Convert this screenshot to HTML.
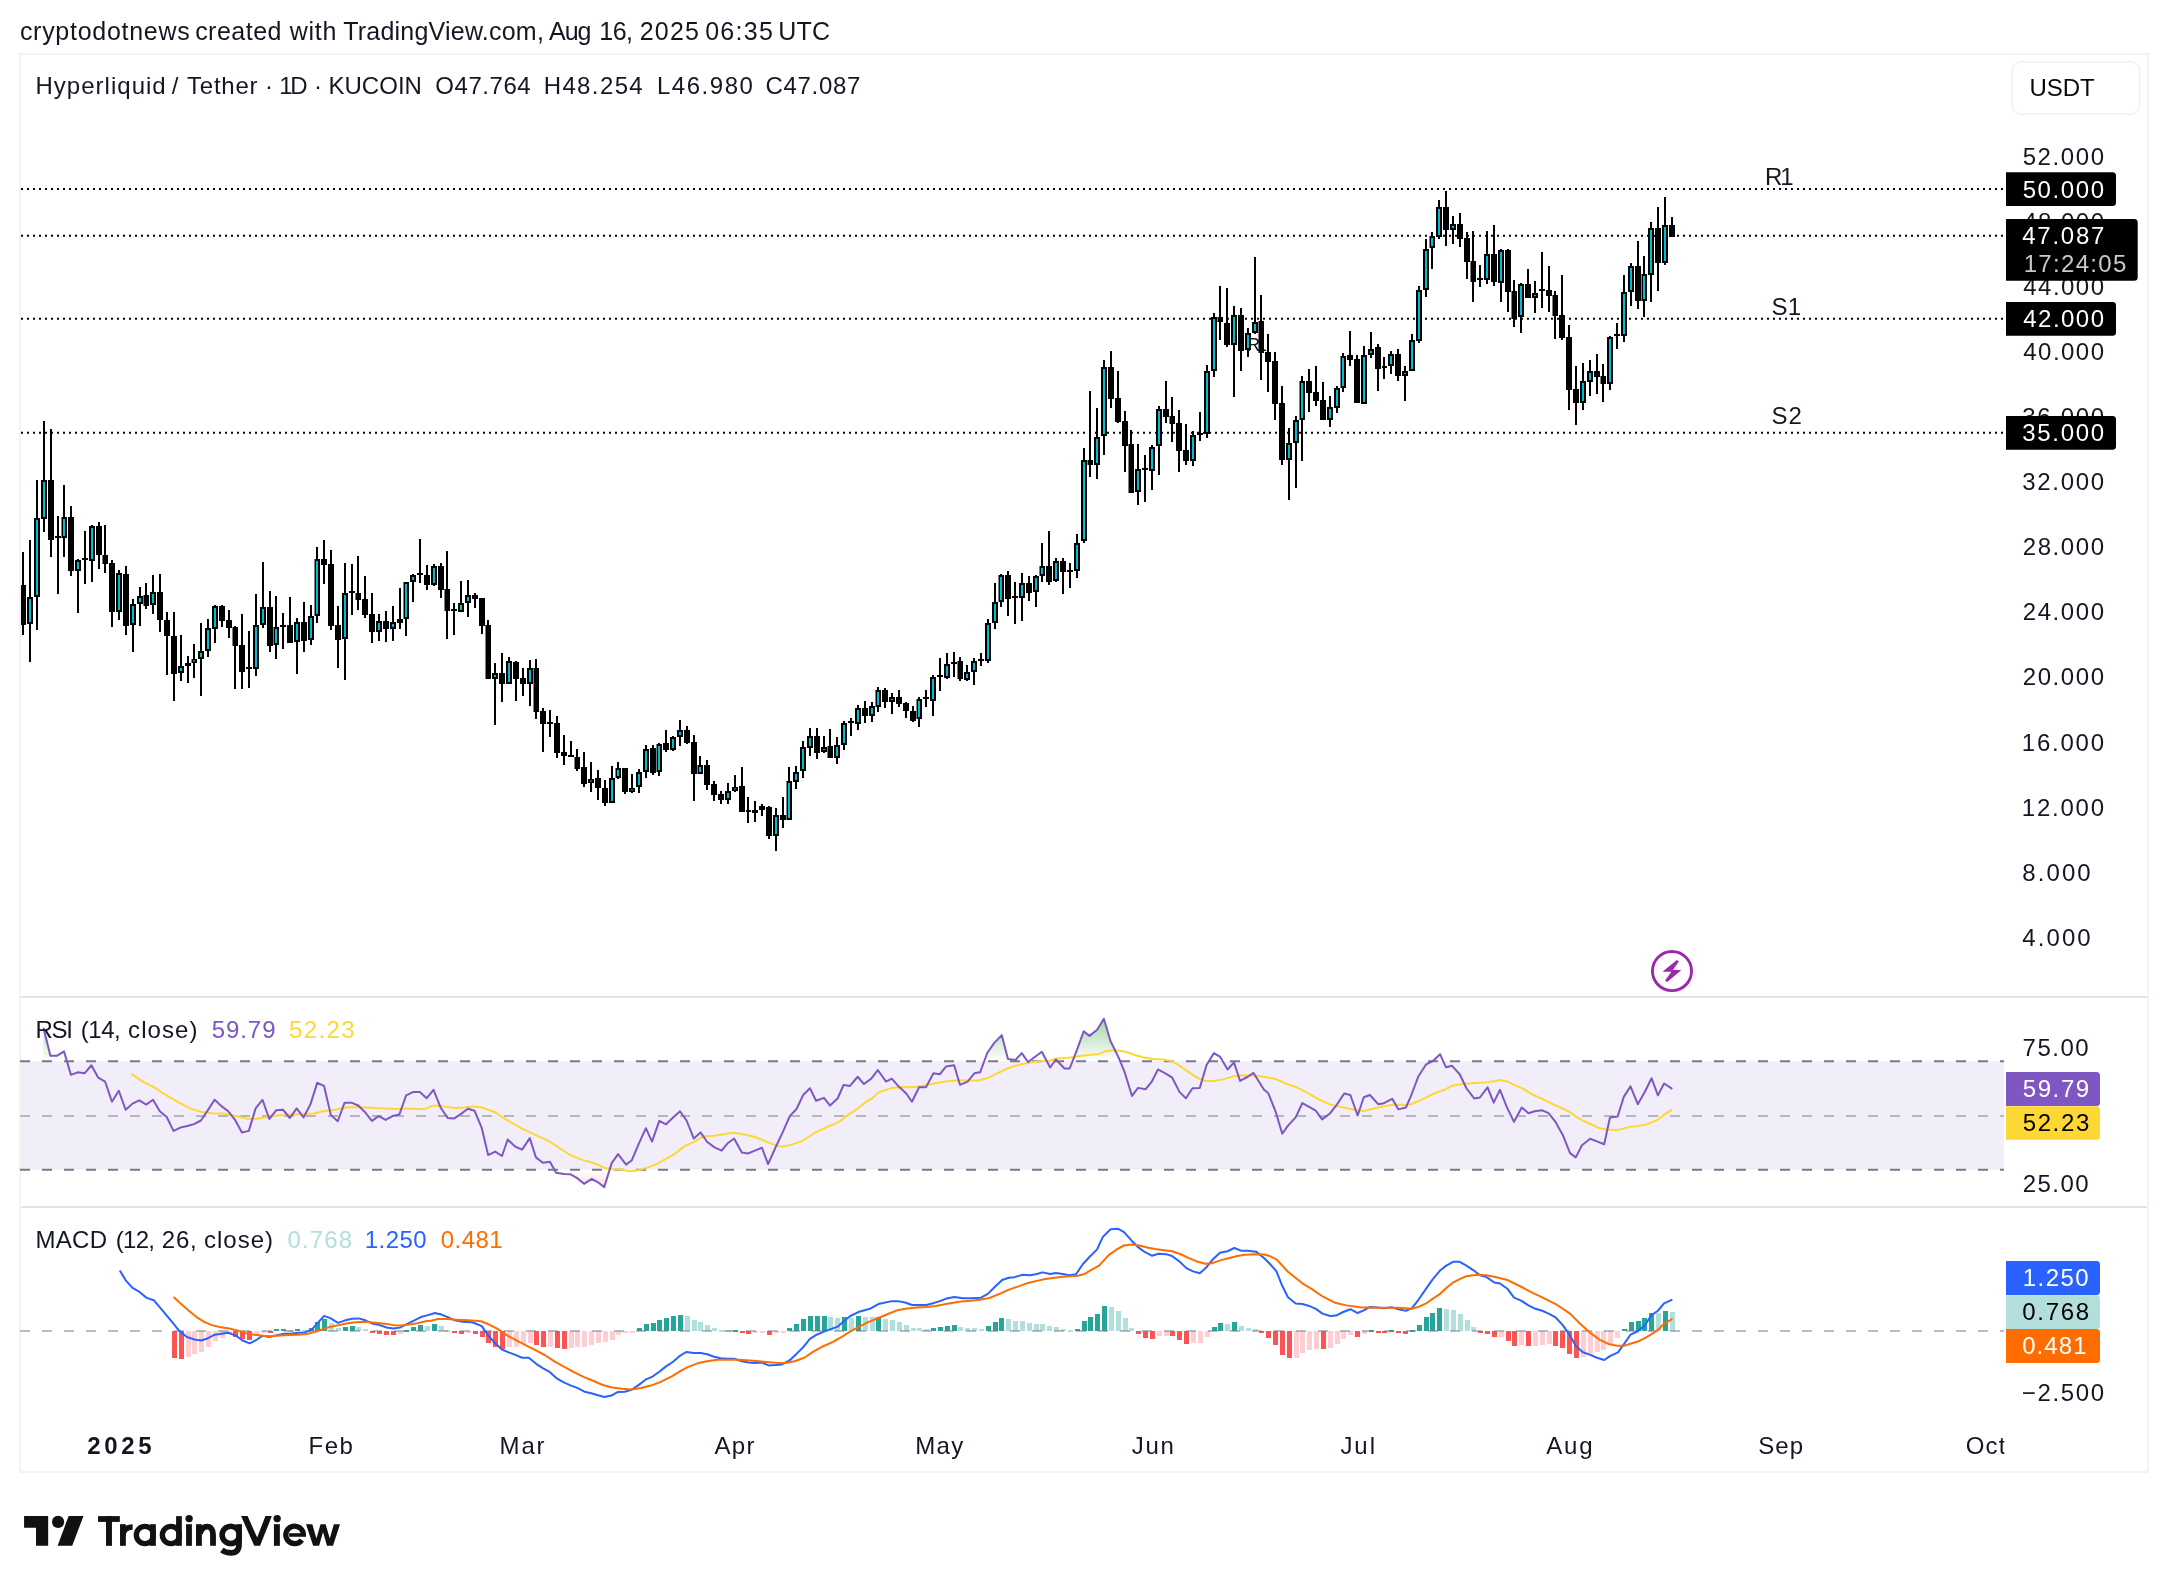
<!DOCTYPE html>
<html><head><meta charset="utf-8"><title>Chart</title>
<style>html,body{margin:0;padding:0;background:#fff}svg{display:block;will-change:transform}</style></head>
<body>
<svg width="2168" height="1592" viewBox="0 0 2168 1592" font-family='"Liberation Sans", sans-serif'>
<defs>
<linearGradient id="gob" gradientUnits="userSpaceOnUse" x1="0" y1="979.75" x2="0" y2="1061.5"><stop offset="0" stop-color="#4caf50" stop-opacity="1"/><stop offset="1" stop-color="#4caf50" stop-opacity="0"/></linearGradient>
<linearGradient id="gos" gradientUnits="userSpaceOnUse" x1="0" y1="1170" x2="0" y2="1252" ><stop offset="0" stop-color="#ff5252" stop-opacity="0"/><stop offset="1" stop-color="#ff5252" stop-opacity="1"/></linearGradient>
<clipPath id="cob"><rect x="21" y="998" width="1983" height="63.3"/></clipPath>
<clipPath id="cos"><rect x="21" y="1170" width="1983" height="36"/></clipPath>
<clipPath id="cmain"><rect x="21" y="55" width="1983" height="941"/></clipPath>
<clipPath id="coct"><rect x="1900" y="1420" width="104.3" height="50"/></clipPath>
</defs>
<rect width="2168" height="1592" fill="#fff"/>
<text id="t0" x="19.9" y="40" font-size="25" fill="#131722" textLength="169.8" lengthAdjust="spacing">cryptodotnews</text>
<text id="t1" x="195.14" y="40" font-size="25" fill="#131722" textLength="86.29" lengthAdjust="spacing">created</text>
<text id="t2" x="289.77" y="40" font-size="25" fill="#131722" textLength="46.62" lengthAdjust="spacing">with</text>
<text id="t3" x="343.18" y="40" font-size="25" fill="#131722" textLength="200.69" lengthAdjust="spacing">TradingView.com,</text>
<text id="t4" x="549.02" y="40" font-size="25" fill="#131722" textLength="42.36" lengthAdjust="spacing">Aug</text>
<text id="t5" x="599.29" y="40" font-size="25" fill="#131722" textLength="33.78" lengthAdjust="spacing">16,</text>
<text id="t6" x="639.77" y="40" font-size="25" fill="#131722" textLength="59.21" lengthAdjust="spacing">2025</text>
<text id="t7" x="705.14" y="40" font-size="25" fill="#131722" textLength="67.84" lengthAdjust="spacing">06:35</text>
<text id="t8" x="778.3" y="40" font-size="25" fill="#131722" textLength="51.7" lengthAdjust="spacing">UTC</text>
<rect x="20" y="54" width="2128" height="1418" fill="none" stroke="#f3f3f3" stroke-width="2"/>
<rect x="21" y="996" width="2126" height="2" fill="#e0e3eb"/>
<rect x="21" y="1206" width="2126" height="2" fill="#e0e3eb"/>
<line x1="21" y1="189" x2="2004" y2="189" stroke="#000" stroke-width="2" stroke-dasharray="2 4"/>
<line x1="21" y1="235.8" x2="2004" y2="235.8" stroke="#000" stroke-width="2" stroke-dasharray="2 4"/>
<line x1="21" y1="318.8" x2="2004" y2="318.8" stroke="#000" stroke-width="2" stroke-dasharray="2 4"/>
<line x1="21" y1="432.8" x2="2004" y2="432.8" stroke="#000" stroke-width="2" stroke-dasharray="2 4"/>
<text id="t9" x="1764.91" y="184.9" font-size="24" fill="#131722" textLength="28.61" lengthAdjust="spacing">R1</text>
<text id="t10" x="1771.53" y="315.4" font-size="24" fill="#131722" textLength="29.62" lengthAdjust="spacing">S1</text>
<text id="t11" x="1771.53" y="423.6" font-size="24" fill="#131722" textLength="30.39" lengthAdjust="spacing">S2</text>
<text id="t12" x="1246.69" y="350.7" font-size="18.5" fill="#131722" textLength="20.46" lengthAdjust="spacing">R1</text>
<g clip-path="url(#cmain)" shape-rendering="crispEdges">
<rect x="22" y="552" width="2" height="83" fill="#000"/>
<rect x="20" y="585" width="6" height="40" fill="#000"/>
<rect x="29" y="540" width="2" height="122" fill="#000"/>
<rect x="27" y="597" width="6" height="27" fill="#000"/>
<rect x="29" y="599" width="2" height="23" fill="#00bcd4"/>
<rect x="36" y="480" width="2" height="150" fill="#000"/>
<rect x="34" y="518" width="6" height="79" fill="#000"/>
<rect x="36" y="520" width="2" height="75" fill="#00bcd4"/>
<rect x="43" y="421" width="2" height="111" fill="#000"/>
<rect x="41" y="480" width="6" height="39" fill="#000"/>
<rect x="43" y="482" width="2" height="35" fill="#00bcd4"/>
<rect x="50" y="429" width="2" height="128" fill="#000"/>
<rect x="48" y="480" width="6" height="60" fill="#000"/>
<rect x="57" y="516" width="2" height="78" fill="#000"/>
<rect x="55" y="536" width="6" height="2" fill="#000"/>
<rect x="63" y="485" width="2" height="72" fill="#000"/>
<rect x="61.5" y="517" width="5.5" height="21" fill="#000" shape-rendering="auto"/>
<rect x="63" y="519" width="2" height="17" fill="#00bcd4"/>
<rect x="70" y="506" width="2" height="70" fill="#000"/>
<rect x="68" y="517" width="6" height="54" fill="#000"/>
<rect x="77" y="559" width="2" height="54" fill="#000"/>
<rect x="75" y="560" width="6" height="11" fill="#000"/>
<rect x="77" y="562" width="2" height="7" fill="#00bcd4"/>
<rect x="84" y="531" width="2" height="53" fill="#000"/>
<rect x="82" y="558" width="6" height="2" fill="#000"/>
<rect x="91" y="525" width="2" height="57" fill="#000"/>
<rect x="89" y="526" width="6" height="35" fill="#000"/>
<rect x="91" y="528" width="2" height="31" fill="#00bcd4"/>
<rect x="98" y="522" width="2" height="47" fill="#000"/>
<rect x="96" y="526" width="6" height="29" fill="#000"/>
<rect x="104" y="525" width="2" height="48" fill="#000"/>
<rect x="102.5" y="555" width="5.5" height="9" fill="#000" shape-rendering="auto"/>
<rect x="111" y="560" width="2" height="67" fill="#000"/>
<rect x="109" y="563" width="6" height="49" fill="#000"/>
<rect x="118" y="570" width="2" height="50" fill="#000"/>
<rect x="116" y="573" width="6" height="39" fill="#000"/>
<rect x="118" y="575" width="2" height="35" fill="#00bcd4"/>
<rect x="125" y="566" width="2" height="69" fill="#000"/>
<rect x="123" y="574" width="6" height="52" fill="#000"/>
<rect x="132" y="599" width="2" height="53" fill="#000"/>
<rect x="130" y="604" width="6" height="21" fill="#000"/>
<rect x="132" y="606" width="2" height="17" fill="#00bcd4"/>
<rect x="139" y="587" width="2" height="39" fill="#000"/>
<rect x="137" y="596" width="6" height="8" fill="#000"/>
<rect x="139" y="598" width="2" height="4" fill="#00bcd4"/>
<rect x="145" y="583" width="2" height="26" fill="#000"/>
<rect x="143.5" y="595" width="5.5" height="11" fill="#000" shape-rendering="auto"/>
<rect x="152" y="575" width="2" height="39" fill="#000"/>
<rect x="150" y="592" width="6" height="13" fill="#000"/>
<rect x="152" y="594" width="2" height="9" fill="#00bcd4"/>
<rect x="159" y="574" width="2" height="58" fill="#000"/>
<rect x="157" y="592" width="6" height="28" fill="#000"/>
<rect x="166" y="612" width="2" height="63" fill="#000"/>
<rect x="164" y="620" width="6" height="16" fill="#000"/>
<rect x="173" y="612" width="2" height="89" fill="#000"/>
<rect x="171" y="636" width="6" height="38" fill="#000"/>
<rect x="180" y="635" width="2" height="46" fill="#000"/>
<rect x="178" y="666" width="6" height="7" fill="#000"/>
<rect x="180" y="668" width="2" height="3" fill="#00bcd4"/>
<rect x="187" y="656" width="2" height="27" fill="#000"/>
<rect x="185" y="663" width="6" height="3" fill="#000"/>
<rect x="193" y="644" width="2" height="34" fill="#000"/>
<rect x="191.5" y="659" width="5.5" height="4" fill="#000" shape-rendering="auto"/>
<rect x="193" y="660.5" width="2" height="1" fill="#00bcd4" shape-rendering="auto"/>
<rect x="200" y="623" width="2" height="73" fill="#000"/>
<rect x="198" y="651" width="6" height="8" fill="#000"/>
<rect x="200" y="653" width="2" height="4" fill="#00bcd4"/>
<rect x="207" y="619" width="2" height="38" fill="#000"/>
<rect x="205" y="628" width="6" height="23" fill="#000"/>
<rect x="207" y="630" width="2" height="19" fill="#00bcd4"/>
<rect x="214" y="605" width="2" height="38" fill="#000"/>
<rect x="212" y="606" width="6" height="23" fill="#000"/>
<rect x="214" y="608" width="2" height="19" fill="#00bcd4"/>
<rect x="221" y="605" width="2" height="22" fill="#000"/>
<rect x="219" y="606" width="6" height="15" fill="#000"/>
<rect x="228" y="610" width="2" height="28" fill="#000"/>
<rect x="226" y="620" width="6" height="8" fill="#000"/>
<rect x="234" y="626" width="2" height="63" fill="#000"/>
<rect x="232.5" y="627" width="5.5" height="19" fill="#000" shape-rendering="auto"/>
<rect x="241" y="614" width="2" height="75" fill="#000"/>
<rect x="239" y="645" width="6" height="27" fill="#000"/>
<rect x="248" y="631" width="2" height="57" fill="#000"/>
<rect x="246" y="667" width="6" height="2" fill="#000"/>
<rect x="255" y="594" width="2" height="82" fill="#000"/>
<rect x="253" y="625" width="6" height="44" fill="#000"/>
<rect x="255" y="627" width="2" height="40" fill="#00bcd4"/>
<rect x="262" y="562" width="2" height="66" fill="#000"/>
<rect x="260" y="607" width="6" height="18" fill="#000"/>
<rect x="262" y="609" width="2" height="14" fill="#00bcd4"/>
<rect x="269" y="591" width="2" height="61" fill="#000"/>
<rect x="267" y="607" width="6" height="39" fill="#000"/>
<rect x="275" y="596" width="2" height="63" fill="#000"/>
<rect x="273.5" y="627" width="5.5" height="18" fill="#000" shape-rendering="auto"/>
<rect x="275" y="629" width="2" height="14" fill="#00bcd4"/>
<rect x="282" y="613" width="2" height="36" fill="#000"/>
<rect x="280" y="625" width="6" height="2" fill="#000"/>
<rect x="289" y="597" width="2" height="46" fill="#000"/>
<rect x="287" y="625" width="6" height="18" fill="#000"/>
<rect x="296" y="618" width="2" height="56" fill="#000"/>
<rect x="294" y="622" width="6" height="20" fill="#000"/>
<rect x="296" y="624" width="2" height="16" fill="#00bcd4"/>
<rect x="303" y="602" width="2" height="50" fill="#000"/>
<rect x="301" y="622" width="6" height="19" fill="#000"/>
<rect x="310" y="605" width="2" height="40" fill="#000"/>
<rect x="308" y="616" width="6" height="24" fill="#000"/>
<rect x="310" y="618" width="2" height="20" fill="#00bcd4"/>
<rect x="316" y="547" width="2" height="76" fill="#000"/>
<rect x="314.5" y="559" width="5.5" height="57" fill="#000" shape-rendering="auto"/>
<rect x="316" y="561" width="2" height="53" fill="#00bcd4"/>
<rect x="323" y="540" width="2" height="44" fill="#000"/>
<rect x="321" y="559" width="6" height="6" fill="#000"/>
<rect x="330" y="550" width="2" height="80" fill="#000"/>
<rect x="328" y="564" width="6" height="62" fill="#000"/>
<rect x="337" y="606" width="2" height="62" fill="#000"/>
<rect x="335" y="625" width="6" height="15" fill="#000"/>
<rect x="344" y="563" width="2" height="117" fill="#000"/>
<rect x="342" y="593" width="6" height="46" fill="#000"/>
<rect x="344" y="595" width="2" height="42" fill="#00bcd4"/>
<rect x="351" y="564" width="2" height="51" fill="#000"/>
<rect x="349" y="591" width="6" height="2" fill="#000"/>
<rect x="357" y="556" width="2" height="54" fill="#000"/>
<rect x="355.5" y="593" width="5.5" height="7" fill="#000" shape-rendering="auto"/>
<rect x="364" y="576" width="2" height="42" fill="#000"/>
<rect x="362" y="599" width="6" height="16" fill="#000"/>
<rect x="371" y="593" width="2" height="50" fill="#000"/>
<rect x="369" y="614" width="6" height="18" fill="#000"/>
<rect x="378" y="614" width="2" height="27" fill="#000"/>
<rect x="376" y="621" width="6" height="11" fill="#000"/>
<rect x="378" y="623" width="2" height="7" fill="#00bcd4"/>
<rect x="385" y="611" width="2" height="31" fill="#000"/>
<rect x="383" y="621" width="6" height="8" fill="#000"/>
<rect x="392" y="606" width="2" height="35" fill="#000"/>
<rect x="390" y="622" width="6" height="7" fill="#000"/>
<rect x="392" y="624" width="2" height="3" fill="#00bcd4"/>
<rect x="399" y="588" width="2" height="41" fill="#000"/>
<rect x="397" y="619" width="6" height="4" fill="#000"/>
<rect x="405" y="582" width="2" height="54" fill="#000"/>
<rect x="403.5" y="582" width="5.5" height="37" fill="#000" shape-rendering="auto"/>
<rect x="405" y="584" width="2" height="33" fill="#00bcd4"/>
<rect x="412" y="574" width="2" height="28" fill="#000"/>
<rect x="410" y="575" width="6" height="7" fill="#000"/>
<rect x="412" y="577" width="2" height="3" fill="#00bcd4"/>
<rect x="419" y="539" width="2" height="44" fill="#000"/>
<rect x="417" y="573" width="6" height="2" fill="#000"/>
<rect x="426" y="565" width="2" height="25" fill="#000"/>
<rect x="424" y="575" width="6" height="10" fill="#000"/>
<rect x="433" y="564" width="2" height="22" fill="#000"/>
<rect x="431" y="566" width="6" height="19" fill="#000"/>
<rect x="433" y="568" width="2" height="15" fill="#00bcd4"/>
<rect x="440" y="563" width="2" height="35" fill="#000"/>
<rect x="438" y="566" width="6" height="24" fill="#000"/>
<rect x="446" y="551" width="2" height="88" fill="#000"/>
<rect x="444.5" y="589" width="5.5" height="22" fill="#000" shape-rendering="auto"/>
<rect x="453" y="603" width="2" height="32" fill="#000"/>
<rect x="451" y="609" width="6" height="2" fill="#000"/>
<rect x="460" y="581" width="2" height="31" fill="#000"/>
<rect x="458" y="603" width="6" height="9" fill="#000"/>
<rect x="460" y="605" width="2" height="5" fill="#00bcd4"/>
<rect x="467" y="580" width="2" height="37" fill="#000"/>
<rect x="465" y="595" width="6" height="8" fill="#000"/>
<rect x="467" y="597" width="2" height="4" fill="#00bcd4"/>
<rect x="474" y="593" width="2" height="15" fill="#000"/>
<rect x="472" y="595" width="6" height="4" fill="#000"/>
<rect x="481" y="598" width="2" height="36" fill="#000"/>
<rect x="479" y="598" width="6" height="28" fill="#000"/>
<rect x="487" y="620" width="2" height="59" fill="#000"/>
<rect x="485.5" y="625" width="5.5" height="54" fill="#000" shape-rendering="auto"/>
<rect x="494" y="663" width="2" height="62" fill="#000"/>
<rect x="492" y="673" width="6" height="6" fill="#000"/>
<rect x="494" y="675" width="2" height="2" fill="#00bcd4"/>
<rect x="501" y="653" width="2" height="49" fill="#000"/>
<rect x="499" y="673" width="6" height="11" fill="#000"/>
<rect x="508" y="657" width="2" height="27" fill="#000"/>
<rect x="506" y="661" width="6" height="23" fill="#000"/>
<rect x="508" y="663" width="2" height="19" fill="#00bcd4"/>
<rect x="515" y="661" width="2" height="40" fill="#000"/>
<rect x="513" y="662" width="6" height="17" fill="#000"/>
<rect x="522" y="668" width="2" height="28" fill="#000"/>
<rect x="520" y="678" width="6" height="6" fill="#000"/>
<rect x="529" y="660" width="2" height="46" fill="#000"/>
<rect x="527" y="668" width="6" height="16" fill="#000"/>
<rect x="529" y="670" width="2" height="12" fill="#00bcd4"/>
<rect x="535" y="659" width="2" height="60" fill="#000"/>
<rect x="533.5" y="668" width="5.5" height="44" fill="#000" shape-rendering="auto"/>
<rect x="542" y="708" width="2" height="44" fill="#000"/>
<rect x="540" y="711" width="6" height="13" fill="#000"/>
<rect x="549" y="710" width="2" height="27" fill="#000"/>
<rect x="547" y="722" width="6" height="2" fill="#000"/>
<rect x="556" y="716" width="2" height="42" fill="#000"/>
<rect x="554" y="723" width="6" height="30" fill="#000"/>
<rect x="563" y="735" width="2" height="30" fill="#000"/>
<rect x="561" y="752" width="6" height="4" fill="#000"/>
<rect x="570" y="741" width="2" height="16" fill="#000"/>
<rect x="568" y="755" width="6" height="2" fill="#000"/>
<rect x="576" y="749" width="2" height="22" fill="#000"/>
<rect x="574.5" y="757" width="5.5" height="12" fill="#000" shape-rendering="auto"/>
<rect x="583" y="752" width="2" height="35" fill="#000"/>
<rect x="581" y="767" width="6" height="17" fill="#000"/>
<rect x="590" y="762" width="2" height="30" fill="#000"/>
<rect x="588" y="779" width="6" height="4" fill="#000"/>
<rect x="590" y="780.5" width="2" height="1" fill="#00bcd4" shape-rendering="auto"/>
<rect x="597" y="770" width="2" height="30" fill="#000"/>
<rect x="595" y="778" width="6" height="10" fill="#000"/>
<rect x="604" y="780" width="2" height="26" fill="#000"/>
<rect x="602" y="788" width="6" height="15" fill="#000"/>
<rect x="611" y="766" width="2" height="37" fill="#000"/>
<rect x="609" y="778" width="6" height="25" fill="#000"/>
<rect x="611" y="780" width="2" height="21" fill="#00bcd4"/>
<rect x="617" y="762" width="2" height="17" fill="#000"/>
<rect x="615.5" y="768" width="5.5" height="10" fill="#000" shape-rendering="auto"/>
<rect x="617" y="770" width="2" height="6" fill="#00bcd4"/>
<rect x="624" y="768" width="2" height="26" fill="#000"/>
<rect x="622" y="768" width="6" height="24" fill="#000"/>
<rect x="631" y="774" width="2" height="19" fill="#000"/>
<rect x="629" y="788" width="6" height="4" fill="#000"/>
<rect x="631" y="789.5" width="2" height="1" fill="#00bcd4" shape-rendering="auto"/>
<rect x="638" y="769" width="2" height="24" fill="#000"/>
<rect x="636" y="772" width="6" height="15" fill="#000"/>
<rect x="638" y="774" width="2" height="11" fill="#00bcd4"/>
<rect x="645" y="745" width="2" height="33" fill="#000"/>
<rect x="643" y="749" width="6" height="23" fill="#000"/>
<rect x="645" y="751" width="2" height="19" fill="#00bcd4"/>
<rect x="652" y="745" width="2" height="30" fill="#000"/>
<rect x="650" y="748" width="6" height="25" fill="#000"/>
<rect x="658" y="743" width="2" height="33" fill="#000"/>
<rect x="656.5" y="744" width="5.5" height="28" fill="#000" shape-rendering="auto"/>
<rect x="658" y="746" width="2" height="24" fill="#00bcd4"/>
<rect x="665" y="730" width="2" height="22" fill="#000"/>
<rect x="663" y="743" width="6" height="7" fill="#000"/>
<rect x="672" y="736" width="2" height="15" fill="#000"/>
<rect x="670" y="737" width="6" height="13" fill="#000"/>
<rect x="672" y="739" width="2" height="9" fill="#00bcd4"/>
<rect x="679" y="720" width="2" height="26" fill="#000"/>
<rect x="677" y="730" width="6" height="7" fill="#000"/>
<rect x="679" y="732" width="2" height="3" fill="#00bcd4"/>
<rect x="686" y="726" width="2" height="18" fill="#000"/>
<rect x="684" y="730" width="6" height="13" fill="#000"/>
<rect x="693" y="735" width="2" height="66" fill="#000"/>
<rect x="691" y="742" width="6" height="32" fill="#000"/>
<rect x="699" y="756" width="2" height="18" fill="#000"/>
<rect x="697.5" y="765" width="5.5" height="9" fill="#000" shape-rendering="auto"/>
<rect x="699" y="767" width="2" height="5" fill="#00bcd4"/>
<rect x="706" y="760" width="2" height="30" fill="#000"/>
<rect x="704" y="765" width="6" height="20" fill="#000"/>
<rect x="713" y="781" width="2" height="20" fill="#000"/>
<rect x="711" y="784" width="6" height="11" fill="#000"/>
<rect x="720" y="791" width="2" height="13" fill="#000"/>
<rect x="718" y="794" width="6" height="6" fill="#000"/>
<rect x="727" y="783" width="2" height="21" fill="#000"/>
<rect x="725" y="791" width="6" height="9" fill="#000"/>
<rect x="727" y="793" width="2" height="5" fill="#00bcd4"/>
<rect x="734" y="775" width="2" height="17" fill="#000"/>
<rect x="732" y="787" width="6" height="4" fill="#000"/>
<rect x="734" y="788.5" width="2" height="1" fill="#00bcd4" shape-rendering="auto"/>
<rect x="741" y="767" width="2" height="45" fill="#000"/>
<rect x="739" y="786" width="6" height="26" fill="#000"/>
<rect x="747" y="797" width="2" height="26" fill="#000"/>
<rect x="745.5" y="810" width="5.5" height="2" fill="#000"/>
<rect x="754" y="801" width="2" height="21" fill="#000"/>
<rect x="752" y="810" width="6" height="3" fill="#000"/>
<rect x="761" y="804" width="2" height="12" fill="#000"/>
<rect x="759" y="806" width="6" height="4" fill="#000"/>
<rect x="768" y="806" width="2" height="33" fill="#000"/>
<rect x="766" y="807" width="6" height="29" fill="#000"/>
<rect x="775" y="808" width="2" height="43" fill="#000"/>
<rect x="773" y="815" width="6" height="21" fill="#000"/>
<rect x="775" y="817" width="2" height="17" fill="#00bcd4"/>
<rect x="782" y="797" width="2" height="31" fill="#000"/>
<rect x="780" y="815" width="6" height="5" fill="#000"/>
<rect x="788" y="767" width="2" height="53" fill="#000"/>
<rect x="786.5" y="781" width="5.5" height="39" fill="#000" shape-rendering="auto"/>
<rect x="788" y="783" width="2" height="35" fill="#00bcd4"/>
<rect x="795" y="766" width="2" height="23" fill="#000"/>
<rect x="793" y="772" width="6" height="10" fill="#000"/>
<rect x="795" y="774" width="2" height="6" fill="#00bcd4"/>
<rect x="802" y="741" width="2" height="37" fill="#000"/>
<rect x="800" y="747" width="6" height="24" fill="#000"/>
<rect x="802" y="749" width="2" height="20" fill="#00bcd4"/>
<rect x="809" y="728" width="2" height="28" fill="#000"/>
<rect x="807" y="736" width="6" height="12" fill="#000"/>
<rect x="809" y="738" width="2" height="8" fill="#00bcd4"/>
<rect x="816" y="728" width="2" height="31" fill="#000"/>
<rect x="814" y="736" width="6" height="17" fill="#000"/>
<rect x="823" y="736" width="2" height="17" fill="#000"/>
<rect x="821" y="747" width="6" height="5" fill="#000"/>
<rect x="823" y="749" width="2" height="1" fill="#00bcd4"/>
<rect x="829" y="729" width="2" height="29" fill="#000"/>
<rect x="827.5" y="746" width="5.5" height="12" fill="#000" shape-rendering="auto"/>
<rect x="836" y="737" width="2" height="27" fill="#000"/>
<rect x="834" y="745" width="6" height="13" fill="#000"/>
<rect x="836" y="747" width="2" height="9" fill="#00bcd4"/>
<rect x="843" y="721" width="2" height="29" fill="#000"/>
<rect x="841" y="723" width="6" height="22" fill="#000"/>
<rect x="843" y="725" width="2" height="18" fill="#00bcd4"/>
<rect x="850" y="718" width="2" height="18" fill="#000"/>
<rect x="848" y="721" width="6" height="2" fill="#000"/>
<rect x="857" y="705" width="2" height="25" fill="#000"/>
<rect x="855" y="708" width="6" height="16" fill="#000"/>
<rect x="857" y="710" width="2" height="12" fill="#00bcd4"/>
<rect x="864" y="701" width="2" height="22" fill="#000"/>
<rect x="862" y="708" width="6" height="8" fill="#000"/>
<rect x="871" y="702" width="2" height="20" fill="#000"/>
<rect x="869" y="706" width="6" height="10" fill="#000"/>
<rect x="871" y="708" width="2" height="6" fill="#00bcd4"/>
<rect x="877" y="687" width="2" height="25" fill="#000"/>
<rect x="875.5" y="690" width="5.5" height="17" fill="#000" shape-rendering="auto"/>
<rect x="877" y="692" width="2" height="13" fill="#00bcd4"/>
<rect x="884" y="688" width="2" height="20" fill="#000"/>
<rect x="882" y="690" width="6" height="12" fill="#000"/>
<rect x="891" y="693" width="2" height="21" fill="#000"/>
<rect x="889" y="697" width="6" height="5" fill="#000"/>
<rect x="891" y="699" width="2" height="1" fill="#00bcd4"/>
<rect x="898" y="690" width="2" height="17" fill="#000"/>
<rect x="896" y="697" width="6" height="7" fill="#000"/>
<rect x="905" y="702" width="2" height="16" fill="#000"/>
<rect x="903" y="703" width="6" height="8" fill="#000"/>
<rect x="912" y="706" width="2" height="16" fill="#000"/>
<rect x="910" y="711" width="6" height="10" fill="#000"/>
<rect x="918" y="697" width="2" height="30" fill="#000"/>
<rect x="916.5" y="699" width="5.5" height="20" fill="#000" shape-rendering="auto"/>
<rect x="918" y="701" width="2" height="16" fill="#00bcd4"/>
<rect x="925" y="690" width="2" height="17" fill="#000"/>
<rect x="923" y="697" width="6" height="2" fill="#000"/>
<rect x="932" y="675" width="2" height="41" fill="#000"/>
<rect x="930" y="677" width="6" height="24" fill="#000"/>
<rect x="932" y="679" width="2" height="20" fill="#00bcd4"/>
<rect x="939" y="658" width="2" height="33" fill="#000"/>
<rect x="937" y="675" width="6" height="2" fill="#000"/>
<rect x="946" y="653" width="2" height="26" fill="#000"/>
<rect x="944" y="664" width="6" height="14" fill="#000"/>
<rect x="946" y="666" width="2" height="10" fill="#00bcd4"/>
<rect x="953" y="652" width="2" height="25" fill="#000"/>
<rect x="951" y="662" width="6" height="2" fill="#000"/>
<rect x="959" y="657" width="2" height="24" fill="#000"/>
<rect x="957.5" y="661" width="5.5" height="18" fill="#000" shape-rendering="auto"/>
<rect x="966" y="665" width="2" height="16" fill="#000"/>
<rect x="964" y="672" width="6" height="8" fill="#000"/>
<rect x="966" y="674" width="2" height="4" fill="#00bcd4"/>
<rect x="973" y="658" width="2" height="27" fill="#000"/>
<rect x="971" y="661" width="6" height="11" fill="#000"/>
<rect x="973" y="663" width="2" height="7" fill="#00bcd4"/>
<rect x="980" y="653" width="2" height="13" fill="#000"/>
<rect x="978" y="659" width="6" height="2" fill="#000"/>
<rect x="987" y="619" width="2" height="44" fill="#000"/>
<rect x="985" y="623" width="6" height="38" fill="#000"/>
<rect x="987" y="625" width="2" height="34" fill="#00bcd4"/>
<rect x="994" y="583" width="2" height="46" fill="#000"/>
<rect x="992" y="602" width="6" height="21" fill="#000"/>
<rect x="994" y="604" width="2" height="17" fill="#00bcd4"/>
<rect x="1000" y="574" width="2" height="33" fill="#000"/>
<rect x="998.5" y="575" width="5.5" height="27" fill="#000" shape-rendering="auto"/>
<rect x="1000" y="577" width="2" height="23" fill="#00bcd4"/>
<rect x="1007" y="571" width="2" height="45" fill="#000"/>
<rect x="1005" y="575" width="6" height="24" fill="#000"/>
<rect x="1014" y="582" width="2" height="42" fill="#000"/>
<rect x="1012" y="596" width="6" height="2" fill="#000"/>
<rect x="1021" y="573" width="2" height="48" fill="#000"/>
<rect x="1019" y="583" width="6" height="15" fill="#000"/>
<rect x="1021" y="585" width="2" height="11" fill="#00bcd4"/>
<rect x="1028" y="576" width="2" height="25" fill="#000"/>
<rect x="1026" y="583" width="6" height="10" fill="#000"/>
<rect x="1035" y="575" width="2" height="32" fill="#000"/>
<rect x="1033" y="576" width="6" height="16" fill="#000"/>
<rect x="1035" y="578" width="2" height="12" fill="#00bcd4"/>
<rect x="1041" y="543" width="2" height="39" fill="#000"/>
<rect x="1039.5" y="566" width="5.5" height="10" fill="#000" shape-rendering="auto"/>
<rect x="1041" y="568" width="2" height="6" fill="#00bcd4"/>
<rect x="1048" y="531" width="2" height="54" fill="#000"/>
<rect x="1046" y="566" width="6" height="16" fill="#000"/>
<rect x="1055" y="558" width="2" height="24" fill="#000"/>
<rect x="1053" y="561" width="6" height="20" fill="#000"/>
<rect x="1055" y="563" width="2" height="16" fill="#00bcd4"/>
<rect x="1062" y="558" width="2" height="36" fill="#000"/>
<rect x="1060" y="561" width="6" height="11" fill="#000"/>
<rect x="1069" y="563" width="2" height="25" fill="#000"/>
<rect x="1067" y="570" width="6" height="2" fill="#000"/>
<rect x="1076" y="534" width="2" height="44" fill="#000"/>
<rect x="1074" y="543" width="6" height="28" fill="#000"/>
<rect x="1076" y="545" width="2" height="24" fill="#00bcd4"/>
<rect x="1083" y="448" width="2" height="95" fill="#000"/>
<rect x="1081" y="460" width="6" height="81" fill="#000"/>
<rect x="1083" y="462" width="2" height="77" fill="#00bcd4"/>
<rect x="1089" y="391" width="2" height="86" fill="#000"/>
<rect x="1087.5" y="460" width="5.5" height="5" fill="#000" shape-rendering="auto"/>
<rect x="1096" y="408" width="2" height="71" fill="#000"/>
<rect x="1094" y="437" width="6" height="28" fill="#000"/>
<rect x="1096" y="439" width="2" height="24" fill="#00bcd4"/>
<rect x="1103" y="360" width="2" height="95" fill="#000"/>
<rect x="1101" y="367" width="6" height="69" fill="#000"/>
<rect x="1103" y="369" width="2" height="65" fill="#00bcd4"/>
<rect x="1110" y="351" width="2" height="57" fill="#000"/>
<rect x="1108" y="367" width="6" height="32" fill="#000"/>
<rect x="1117" y="371" width="2" height="52" fill="#000"/>
<rect x="1115" y="398" width="6" height="24" fill="#000"/>
<rect x="1124" y="411" width="2" height="61" fill="#000"/>
<rect x="1122" y="421" width="6" height="25" fill="#000"/>
<rect x="1130" y="430" width="2" height="63" fill="#000"/>
<rect x="1128.5" y="444" width="5.5" height="49" fill="#000" shape-rendering="auto"/>
<rect x="1137" y="444" width="2" height="61" fill="#000"/>
<rect x="1135" y="469" width="6" height="23" fill="#000"/>
<rect x="1137" y="471" width="2" height="19" fill="#00bcd4"/>
<rect x="1144" y="455" width="2" height="47" fill="#000"/>
<rect x="1142" y="468" width="6" height="2" fill="#000"/>
<rect x="1151" y="445" width="2" height="45" fill="#000"/>
<rect x="1149" y="447" width="6" height="24" fill="#000"/>
<rect x="1151" y="449" width="2" height="20" fill="#00bcd4"/>
<rect x="1158" y="406" width="2" height="69" fill="#000"/>
<rect x="1156" y="409" width="6" height="37" fill="#000"/>
<rect x="1158" y="411" width="2" height="33" fill="#00bcd4"/>
<rect x="1165" y="381" width="2" height="42" fill="#000"/>
<rect x="1163" y="409" width="6" height="8" fill="#000"/>
<rect x="1171" y="397" width="2" height="45" fill="#000"/>
<rect x="1169.5" y="416" width="5.5" height="8" fill="#000" shape-rendering="auto"/>
<rect x="1178" y="410" width="2" height="62" fill="#000"/>
<rect x="1176" y="423" width="6" height="28" fill="#000"/>
<rect x="1185" y="424" width="2" height="41" fill="#000"/>
<rect x="1183" y="450" width="6" height="11" fill="#000"/>
<rect x="1192" y="431" width="2" height="35" fill="#000"/>
<rect x="1190" y="435" width="6" height="26" fill="#000"/>
<rect x="1192" y="437" width="2" height="22" fill="#00bcd4"/>
<rect x="1199" y="412" width="2" height="29" fill="#000"/>
<rect x="1197" y="433" width="6" height="2" fill="#000"/>
<rect x="1206" y="365" width="2" height="73" fill="#000"/>
<rect x="1204" y="371" width="6" height="63" fill="#000"/>
<rect x="1206" y="373" width="2" height="59" fill="#00bcd4"/>
<rect x="1213" y="313" width="2" height="64" fill="#000"/>
<rect x="1211" y="317" width="6" height="54" fill="#000"/>
<rect x="1213" y="319" width="2" height="50" fill="#00bcd4"/>
<rect x="1219" y="286" width="2" height="54" fill="#000"/>
<rect x="1217.5" y="317" width="5.5" height="5" fill="#000" shape-rendering="auto"/>
<rect x="1226" y="288" width="2" height="59" fill="#000"/>
<rect x="1224" y="323" width="6" height="22" fill="#000"/>
<rect x="1233" y="306" width="2" height="91" fill="#000"/>
<rect x="1231" y="315" width="6" height="30" fill="#000"/>
<rect x="1233" y="317" width="2" height="26" fill="#00bcd4"/>
<rect x="1240" y="308" width="2" height="63" fill="#000"/>
<rect x="1238" y="315" width="6" height="36" fill="#000"/>
<rect x="1247" y="328" width="2" height="29" fill="#000"/>
<rect x="1245" y="333" width="6" height="17" fill="#000"/>
<rect x="1247" y="335" width="2" height="13" fill="#00bcd4"/>
<rect x="1254" y="257" width="2" height="77" fill="#000"/>
<rect x="1252" y="322" width="6" height="11" fill="#000"/>
<rect x="1254" y="324" width="2" height="7" fill="#00bcd4"/>
<rect x="1260" y="295" width="2" height="85" fill="#000"/>
<rect x="1258.5" y="321" width="5.5" height="32" fill="#000" shape-rendering="auto"/>
<rect x="1267" y="334" width="2" height="58" fill="#000"/>
<rect x="1265" y="352" width="6" height="10" fill="#000"/>
<rect x="1274" y="352" width="2" height="68" fill="#000"/>
<rect x="1272" y="361" width="6" height="43" fill="#000"/>
<rect x="1281" y="386" width="2" height="79" fill="#000"/>
<rect x="1279" y="403" width="6" height="57" fill="#000"/>
<rect x="1288" y="428" width="2" height="72" fill="#000"/>
<rect x="1286" y="443" width="6" height="17" fill="#000"/>
<rect x="1288" y="445" width="2" height="13" fill="#00bcd4"/>
<rect x="1295" y="416" width="2" height="72" fill="#000"/>
<rect x="1293" y="420" width="6" height="23" fill="#000"/>
<rect x="1295" y="422" width="2" height="19" fill="#00bcd4"/>
<rect x="1301" y="376" width="2" height="85" fill="#000"/>
<rect x="1299.5" y="381" width="5.5" height="39" fill="#000" shape-rendering="auto"/>
<rect x="1301" y="383" width="2" height="35" fill="#00bcd4"/>
<rect x="1308" y="369" width="2" height="43" fill="#000"/>
<rect x="1306" y="381" width="6" height="12" fill="#000"/>
<rect x="1315" y="366" width="2" height="40" fill="#000"/>
<rect x="1313" y="392" width="6" height="9" fill="#000"/>
<rect x="1322" y="382" width="2" height="38" fill="#000"/>
<rect x="1320" y="400" width="6" height="20" fill="#000"/>
<rect x="1329" y="396" width="2" height="31" fill="#000"/>
<rect x="1327" y="407" width="6" height="13" fill="#000"/>
<rect x="1329" y="409" width="2" height="9" fill="#00bcd4"/>
<rect x="1336" y="386" width="2" height="27" fill="#000"/>
<rect x="1334" y="388" width="6" height="20" fill="#000"/>
<rect x="1336" y="390" width="2" height="16" fill="#00bcd4"/>
<rect x="1342" y="353" width="2" height="39" fill="#000"/>
<rect x="1340.5" y="356" width="5.5" height="32" fill="#000" shape-rendering="auto"/>
<rect x="1342" y="358" width="2" height="28" fill="#00bcd4"/>
<rect x="1349" y="331" width="2" height="35" fill="#000"/>
<rect x="1347" y="355" width="6" height="5" fill="#000"/>
<rect x="1356" y="355" width="2" height="48" fill="#000"/>
<rect x="1354" y="359" width="6" height="44" fill="#000"/>
<rect x="1363" y="346" width="2" height="58" fill="#000"/>
<rect x="1361" y="355" width="6" height="49" fill="#000"/>
<rect x="1363" y="357" width="2" height="45" fill="#00bcd4"/>
<rect x="1370" y="332" width="2" height="26" fill="#000"/>
<rect x="1368" y="349" width="6" height="6" fill="#000"/>
<rect x="1370" y="351" width="2" height="2" fill="#00bcd4"/>
<rect x="1377" y="344" width="2" height="47" fill="#000"/>
<rect x="1375" y="347" width="6" height="22" fill="#000"/>
<rect x="1383" y="357" width="2" height="22" fill="#000"/>
<rect x="1381.5" y="366" width="5.5" height="2" fill="#000"/>
<rect x="1390" y="351" width="2" height="23" fill="#000"/>
<rect x="1388" y="354" width="6" height="12" fill="#000"/>
<rect x="1390" y="356" width="2" height="8" fill="#00bcd4"/>
<rect x="1397" y="349" width="2" height="32" fill="#000"/>
<rect x="1395" y="354" width="6" height="22" fill="#000"/>
<rect x="1404" y="366" width="2" height="35" fill="#000"/>
<rect x="1402" y="371" width="6" height="5" fill="#000"/>
<rect x="1404" y="373" width="2" height="1" fill="#00bcd4"/>
<rect x="1411" y="334" width="2" height="37" fill="#000"/>
<rect x="1409" y="340" width="6" height="31" fill="#000"/>
<rect x="1411" y="342" width="2" height="27" fill="#00bcd4"/>
<rect x="1418" y="286" width="2" height="57" fill="#000"/>
<rect x="1416" y="290" width="6" height="51" fill="#000"/>
<rect x="1418" y="292" width="2" height="47" fill="#00bcd4"/>
<rect x="1425" y="239" width="2" height="58" fill="#000"/>
<rect x="1423" y="249" width="6" height="41" fill="#000"/>
<rect x="1425" y="251" width="2" height="37" fill="#00bcd4"/>
<rect x="1431" y="232" width="2" height="37" fill="#000"/>
<rect x="1429.5" y="236" width="5.5" height="12" fill="#000" shape-rendering="auto"/>
<rect x="1431" y="238" width="2" height="8" fill="#00bcd4"/>
<rect x="1438" y="200" width="2" height="39" fill="#000"/>
<rect x="1436" y="207" width="6" height="30" fill="#000"/>
<rect x="1438" y="209" width="2" height="26" fill="#00bcd4"/>
<rect x="1445" y="191" width="2" height="55" fill="#000"/>
<rect x="1443" y="207" width="6" height="23" fill="#000"/>
<rect x="1452" y="216" width="2" height="28" fill="#000"/>
<rect x="1450" y="224" width="6" height="6" fill="#000"/>
<rect x="1452" y="226" width="2" height="2" fill="#00bcd4"/>
<rect x="1459" y="213" width="2" height="34" fill="#000"/>
<rect x="1457" y="224" width="6" height="15" fill="#000"/>
<rect x="1466" y="232" width="2" height="47" fill="#000"/>
<rect x="1464" y="238" width="6" height="24" fill="#000"/>
<rect x="1472" y="231" width="2" height="71" fill="#000"/>
<rect x="1470.5" y="261" width="5.5" height="21" fill="#000" shape-rendering="auto"/>
<rect x="1479" y="265" width="2" height="22" fill="#000"/>
<rect x="1477" y="278" width="6" height="2" fill="#000"/>
<rect x="1486" y="231" width="2" height="53" fill="#000"/>
<rect x="1484" y="254" width="6" height="26" fill="#000"/>
<rect x="1486" y="256" width="2" height="22" fill="#00bcd4"/>
<rect x="1493" y="225" width="2" height="61" fill="#000"/>
<rect x="1491" y="254" width="6" height="28" fill="#000"/>
<rect x="1500" y="249" width="2" height="53" fill="#000"/>
<rect x="1498" y="250" width="6" height="33" fill="#000"/>
<rect x="1500" y="252" width="2" height="29" fill="#00bcd4"/>
<rect x="1507" y="249" width="2" height="63" fill="#000"/>
<rect x="1505" y="250" width="6" height="42" fill="#000"/>
<rect x="1513" y="280" width="2" height="47" fill="#000"/>
<rect x="1511.5" y="291" width="5.5" height="28" fill="#000" shape-rendering="auto"/>
<rect x="1520" y="283" width="2" height="50" fill="#000"/>
<rect x="1518" y="284" width="6" height="33" fill="#000"/>
<rect x="1520" y="286" width="2" height="29" fill="#00bcd4"/>
<rect x="1527" y="269" width="2" height="29" fill="#000"/>
<rect x="1525" y="284" width="6" height="14" fill="#000"/>
<rect x="1534" y="281" width="2" height="32" fill="#000"/>
<rect x="1532" y="293" width="6" height="5" fill="#000"/>
<rect x="1534" y="295" width="2" height="1" fill="#00bcd4"/>
<rect x="1541" y="252" width="2" height="56" fill="#000"/>
<rect x="1539" y="289" width="6" height="2" fill="#000"/>
<rect x="1548" y="266" width="2" height="46" fill="#000"/>
<rect x="1546" y="290" width="6" height="6" fill="#000"/>
<rect x="1554" y="291" width="2" height="48" fill="#000"/>
<rect x="1552.5" y="295" width="5.5" height="21" fill="#000" shape-rendering="auto"/>
<rect x="1561" y="275" width="2" height="65" fill="#000"/>
<rect x="1559" y="315" width="6" height="23" fill="#000"/>
<rect x="1568" y="325" width="2" height="85" fill="#000"/>
<rect x="1566" y="337" width="6" height="53" fill="#000"/>
<rect x="1575" y="366" width="2" height="59" fill="#000"/>
<rect x="1573" y="389" width="6" height="14" fill="#000"/>
<rect x="1582" y="363" width="2" height="47" fill="#000"/>
<rect x="1580" y="381" width="6" height="22" fill="#000"/>
<rect x="1582" y="383" width="2" height="18" fill="#00bcd4"/>
<rect x="1589" y="360" width="2" height="36" fill="#000"/>
<rect x="1587" y="371" width="6" height="11" fill="#000"/>
<rect x="1589" y="373" width="2" height="7" fill="#00bcd4"/>
<rect x="1596" y="354" width="2" height="40" fill="#000"/>
<rect x="1594" y="371" width="6" height="6" fill="#000"/>
<rect x="1602" y="364" width="2" height="38" fill="#000"/>
<rect x="1600.5" y="376" width="5.5" height="8" fill="#000" shape-rendering="auto"/>
<rect x="1609" y="336" width="2" height="54" fill="#000"/>
<rect x="1607" y="337" width="6" height="47" fill="#000"/>
<rect x="1609" y="339" width="2" height="43" fill="#00bcd4"/>
<rect x="1616" y="323" width="2" height="26" fill="#000"/>
<rect x="1614" y="334" width="6" height="2" fill="#000"/>
<rect x="1623" y="275" width="2" height="67" fill="#000"/>
<rect x="1621" y="292" width="6" height="44" fill="#000"/>
<rect x="1623" y="294" width="2" height="40" fill="#00bcd4"/>
<rect x="1630" y="263" width="2" height="43" fill="#000"/>
<rect x="1628" y="266" width="6" height="26" fill="#000"/>
<rect x="1630" y="268" width="2" height="22" fill="#00bcd4"/>
<rect x="1637" y="241" width="2" height="68" fill="#000"/>
<rect x="1635" y="266" width="6" height="35" fill="#000"/>
<rect x="1643" y="256" width="2" height="61" fill="#000"/>
<rect x="1641.5" y="274" width="5.5" height="27" fill="#000" shape-rendering="auto"/>
<rect x="1643" y="276" width="2" height="23" fill="#00bcd4"/>
<rect x="1650" y="222" width="2" height="80" fill="#000"/>
<rect x="1648" y="228" width="6" height="47" fill="#000"/>
<rect x="1650" y="230" width="2" height="43" fill="#00bcd4"/>
<rect x="1657" y="207" width="2" height="84" fill="#000"/>
<rect x="1655" y="228" width="6" height="35" fill="#000"/>
<rect x="1664" y="197" width="2" height="68" fill="#000"/>
<rect x="1662" y="225" width="6" height="38" fill="#000"/>
<rect x="1664" y="227" width="2" height="34" fill="#00bcd4"/>
<rect x="1671" y="217" width="2" height="20" fill="#000"/>
<rect x="1669" y="225" width="6" height="12" fill="#000"/>
</g>
<circle cx="1672" cy="971.05" r="19.55" fill="none" stroke="#9c27b0" stroke-width="2.9"/>
<path d="M1676.87 960 L1678.88 961.5 L1672.8 969.95 L1680.84 969.95 L1680.64 970.8 L1667.18 982.1 L1665.07 980.4 L1671.45 971.8 L1663.05 971.8 L1663.05 971.3 Z" fill="#9c27b0"/>
<text id="t13" x="35.51" y="94.2" font-size="24" fill="#131722" textLength="130.2" lengthAdjust="spacing">Hyperliquid</text>
<text id="t14" x="171.75" y="94.2" font-size="24" fill="#131722">/</text>
<text id="t15" x="187.05" y="94.2" font-size="24" fill="#131722" textLength="70.56" lengthAdjust="spacing">Tether</text>
<text x="268.9" y="94.2" font-size="24" fill="#131722" text-anchor="middle">·</text>
<text id="t16" x="279.19" y="94.2" font-size="24" fill="#131722" textLength="28.4" lengthAdjust="spacing">1D</text>
<text x="317.9" y="94.2" font-size="24" fill="#131722" text-anchor="middle">·</text>
<text id="t17" x="328.45" y="94.2" font-size="24" fill="#131722" textLength="93.46" lengthAdjust="spacing">KUCOIN</text>
<text id="t18" x="435.31" y="94.2" font-size="24" fill="#131722" textLength="95.37" lengthAdjust="spacing">O47.764</text>
<text id="t19" x="543.67" y="94.2" font-size="24" fill="#131722" textLength="99.05" lengthAdjust="spacing">H48.254</text>
<text id="t20" x="657" y="94.2" font-size="24" fill="#131722" textLength="95.86" lengthAdjust="spacing">L46.980</text>
<text id="t21" x="765.46" y="94.2" font-size="24" fill="#131722" textLength="95.01" lengthAdjust="spacing">C47.087</text>
<rect x="2012.3" y="62" width="127.3" height="52" rx="8" fill="#fff" stroke="#f3f3f3" stroke-width="2"/>
<text id="t22" x="2029.59" y="95.6" font-size="24" fill="#0a0a0a" textLength="65.16" lengthAdjust="spacing">USDT</text>
<text id="t23" x="2022.67" y="164.9" font-size="24" fill="#131722" textLength="81.33" lengthAdjust="spacing">52.000</text>
<text id="t24" x="2023.24" y="229.97" font-size="24" fill="#131722" textLength="80.76" lengthAdjust="spacing">48.000</text>
<text id="t25" x="2023.24" y="295.04" font-size="24" fill="#131722" textLength="80.76" lengthAdjust="spacing">44.000</text>
<text id="t26" x="2023.24" y="360.1" font-size="24" fill="#131722" textLength="80.76" lengthAdjust="spacing">40.000</text>
<text id="t27" x="2022.29" y="425.17" font-size="24" fill="#131722" textLength="81.71" lengthAdjust="spacing">36.000</text>
<text id="t28" x="2022.29" y="490.24" font-size="24" fill="#131722" textLength="81.71" lengthAdjust="spacing">32.000</text>
<text id="t29" x="2022.74" y="555.31" font-size="24" fill="#131722" textLength="81.25" lengthAdjust="spacing">28.000</text>
<text id="t30" x="2022.74" y="620.38" font-size="24" fill="#131722" textLength="81.25" lengthAdjust="spacing">24.000</text>
<text id="t31" x="2022.74" y="685.44" font-size="24" fill="#131722" textLength="81.25" lengthAdjust="spacing">20.000</text>
<text id="t32" x="2021.77" y="750.51" font-size="24" fill="#131722" textLength="82.23" lengthAdjust="spacing">16.000</text>
<text id="t33" x="2021.77" y="815.58" font-size="24" fill="#131722" textLength="82.23" lengthAdjust="spacing">12.000</text>
<text id="t34" x="2022.3" y="880.65" font-size="24" fill="#131722" textLength="68.4" lengthAdjust="spacing">8.000</text>
<text id="t35" x="2022.34" y="945.72" font-size="24" fill="#131722" textLength="68.36" lengthAdjust="spacing">4.000</text>
<path d="M2006 172.2 H2112.5 A3.5 3.5 0 0 1 2116 175.7 V202.5 A3.5 3.5 0 0 1 2112.5 206 H2006 Z" fill="#000"/>
<text id="t36" x="2022.67" y="197.5" font-size="24" fill="#fff" textLength="81.33" lengthAdjust="spacing">50.000</text>
<path d="M2006 302 H2112.5 A3.5 3.5 0 0 1 2116 305.5 V332.3 A3.5 3.5 0 0 1 2112.5 335.8 H2006 Z" fill="#000"/>
<text id="t37" x="2023.24" y="327.3" font-size="24" fill="#fff" textLength="80.76" lengthAdjust="spacing">42.000</text>
<path d="M2006 416 H2112.5 A3.5 3.5 0 0 1 2116 419.5 V446.3 A3.5 3.5 0 0 1 2112.5 449.8 H2006 Z" fill="#000"/>
<text id="t38" x="2022.29" y="441.3" font-size="24" fill="#fff" textLength="81.71" lengthAdjust="spacing">35.000</text>
<path d="M2006 219.1 H2134.2 A3.5 3.5 0 0 1 2137.7 222.6 V277.2 A3.5 3.5 0 0 1 2134.2 280.7 H2006 Z" fill="#000"/>
<text id="t39" x="2022.29" y="244.1" font-size="24" fill="#fff" textLength="82.03" lengthAdjust="spacing">47.087</text>
<text id="t40" x="2023.72" y="271.9" font-size="24" fill="#c9c9c9" textLength="102.53" lengthAdjust="spacing">17:24:05</text>
<rect x="21" y="1061.2" width="1983" height="108.5" fill="#7e57c2" fill-opacity="0.1"/>
<line x1="20" y1="1061.2" x2="2004" y2="1061.2" stroke="#787b86" stroke-opacity="1" stroke-width="2" stroke-dasharray="10 12"/>
<line x1="20" y1="1169.8" x2="2004" y2="1169.8" stroke="#787b86" stroke-opacity="1" stroke-width="2" stroke-dasharray="10 12"/>
<line x1="20" y1="1115.9" x2="2004" y2="1115.9" stroke="#787b86" stroke-opacity="0.5" stroke-width="2" stroke-dasharray="10 12"/>
<polygon points="43.53,1027.82 50.37,1055.65 57.21,1055.65 64.05,1051.42 70.89,1074.83 77.74,1072.34 84.58,1073.3 91.42,1065.24 98.26,1077.71 105.1,1081.55 111.95,1101.7 118.79,1090.76 125.63,1109.76 132.47,1103.62 139.31,1100.35 146.16,1104.58 153,1099.78 159.84,1111.29 166.68,1117.05 173.52,1130.86 180.37,1127.6 187.21,1126.07 194.05,1124.15 200.89,1120.5 207.73,1110.33 214.58,1099.78 221.42,1106.11 228.26,1111.29 235.1,1119.93 241.94,1132.4 248.79,1130.86 255.63,1108.41 262.47,1099.78 269.31,1118.97 276.15,1110.33 283,1109.76 289.84,1118.01 296.68,1108.41 303.52,1117.43 310.36,1104.58 317.21,1082.89 324.05,1085.96 330.89,1115.13 337.73,1121.27 344.57,1102.66 351.42,1102.66 358.26,1105.54 365.1,1112.25 371.94,1120.89 378.78,1116.09 385.63,1119.93 392.47,1116.09 399.31,1114.55 406.15,1095.37 412.99,1092.1 419.84,1092.1 426.68,1098.24 433.52,1089.8 440.55,1107.45 447.65,1118.01 453.99,1118.58 460.7,1114.17 467.8,1108.8 474.52,1110.72 481.81,1128.18 488.14,1155.04 495.24,1151.59 501.96,1156 507.71,1139.5 515.39,1146.79 522.1,1149.67 529.78,1138.15 535.92,1157.34 542.83,1162.72 549.93,1161.76 556.07,1172.69 563.74,1174.04 570.07,1174.23 576.79,1177.87 584.08,1183.82 591.76,1178.83 597.9,1182.29 604.23,1187.08 611.71,1163.1 618.04,1154.08 626.1,1164.63 631.86,1160.22 639.15,1142.95 645.87,1128.18 652.01,1141.61 659.3,1120.89 666.01,1124.34 673.11,1117.43 680.02,1111.29 686.55,1120.5 693.84,1138.54 700.55,1132.4 707.27,1141.99 714.56,1147.37 721.66,1150.63 727.99,1142.95 734.13,1138.54 741.81,1152.55 747.95,1153.51 754.86,1150.63 761.96,1147.75 768.1,1164.06 775.39,1147.75 782.68,1132.4 789.78,1116.09 796.49,1108.99 803.21,1094.98 809.93,1088.27 816.07,1100.74 823.93,1097.86 830.07,1105.54 837.75,1098.24 843.51,1085 849.98,1085.96 857.65,1076.75 863.99,1084.04 871.28,1078.67 877.8,1070.04 886.05,1081.55 891.81,1078.67 898.52,1086.35 906.2,1093.45 911.96,1101.7 919.06,1087.31 925.96,1087.31 933.45,1073.3 939.78,1074.26 945.92,1066.58 954.17,1065.24 959.93,1084.81 967.6,1081.55 974.32,1073.3 980.07,1072.34 987.37,1052.77 994.08,1043.17 1001.76,1035.11 1007.9,1059.1 1015.57,1059.87 1021.71,1053.15 1028.04,1061.98 1034.76,1056.99 1041.86,1051.81 1050.11,1067.54 1055.87,1059.48 1064.5,1068.5 1069.68,1068.5 1076.97,1049.89 1083.69,1031.28 1089.45,1035.88 1097.12,1029.74 1103.84,1018.8 1110.55,1041.25 1118.23,1056.61 1124.56,1071.96 1132.04,1095.94 1137.99,1087.88 1145.67,1089.23 1151.81,1081.55 1157.95,1069.46 1165.24,1073.3 1171.96,1077.33 1179.63,1092.1 1185.96,1098.24 1192.49,1088.27 1199.78,1087.88 1206.49,1065.24 1213.79,1053.15 1219.93,1056.61 1227.6,1069.46 1233.93,1062.36 1240.07,1080.97 1247.75,1076.75 1253.51,1072.92 1264,1089.8 1268.22,1093.06 1275.51,1111.29 1282.23,1133.74 1287.99,1125.68 1295.66,1117.43 1302.38,1103.04 1309.09,1106.88 1315.81,1110.72 1322.14,1119.35 1330.2,1113.21 1336.92,1104.58 1344.21,1093.45 1350.35,1094.98 1357.64,1115.51 1363.78,1097.28 1369.92,1094.98 1378.17,1104.19 1383.93,1103.23 1392.18,1098.82 1398.32,1109.37 1405.99,1107.45 1411.75,1094.02 1418.46,1076.18 1426.14,1064.28 1432.86,1061.02 1440.15,1054.3 1445.9,1067.16 1452.04,1065.82 1459.72,1074.26 1466.44,1088.27 1474.11,1098.44 1479.87,1097.48 1487.54,1087.31 1493.68,1102.66 1500.01,1089.8 1506.73,1106.88 1514.02,1121.85 1521.7,1107.45 1528.41,1113.21 1534.55,1111.29 1542.23,1110.33 1548.56,1113.21 1555.66,1122.23 1562.76,1134.89 1570.05,1153.12 1575.81,1157.34 1581.95,1145.25 1590.2,1138.73 1596.92,1141.42 1604.21,1144.3 1609.96,1117.43 1617.64,1116.47 1623.78,1096.9 1630.49,1086.35 1637.79,1104.19 1644.89,1091.72 1651.6,1078.29 1657.93,1095.37 1664.07,1083.47 1672.32,1088.84 1672.32,1061.5 43.53,1061.5" fill="url(#gob)" clip-path="url(#cob)"/>
<polygon points="43.53,1027.82 50.37,1055.65 57.21,1055.65 64.05,1051.42 70.89,1074.83 77.74,1072.34 84.58,1073.3 91.42,1065.24 98.26,1077.71 105.1,1081.55 111.95,1101.7 118.79,1090.76 125.63,1109.76 132.47,1103.62 139.31,1100.35 146.16,1104.58 153,1099.78 159.84,1111.29 166.68,1117.05 173.52,1130.86 180.37,1127.6 187.21,1126.07 194.05,1124.15 200.89,1120.5 207.73,1110.33 214.58,1099.78 221.42,1106.11 228.26,1111.29 235.1,1119.93 241.94,1132.4 248.79,1130.86 255.63,1108.41 262.47,1099.78 269.31,1118.97 276.15,1110.33 283,1109.76 289.84,1118.01 296.68,1108.41 303.52,1117.43 310.36,1104.58 317.21,1082.89 324.05,1085.96 330.89,1115.13 337.73,1121.27 344.57,1102.66 351.42,1102.66 358.26,1105.54 365.1,1112.25 371.94,1120.89 378.78,1116.09 385.63,1119.93 392.47,1116.09 399.31,1114.55 406.15,1095.37 412.99,1092.1 419.84,1092.1 426.68,1098.24 433.52,1089.8 440.55,1107.45 447.65,1118.01 453.99,1118.58 460.7,1114.17 467.8,1108.8 474.52,1110.72 481.81,1128.18 488.14,1155.04 495.24,1151.59 501.96,1156 507.71,1139.5 515.39,1146.79 522.1,1149.67 529.78,1138.15 535.92,1157.34 542.83,1162.72 549.93,1161.76 556.07,1172.69 563.74,1174.04 570.07,1174.23 576.79,1177.87 584.08,1183.82 591.76,1178.83 597.9,1182.29 604.23,1187.08 611.71,1163.1 618.04,1154.08 626.1,1164.63 631.86,1160.22 639.15,1142.95 645.87,1128.18 652.01,1141.61 659.3,1120.89 666.01,1124.34 673.11,1117.43 680.02,1111.29 686.55,1120.5 693.84,1138.54 700.55,1132.4 707.27,1141.99 714.56,1147.37 721.66,1150.63 727.99,1142.95 734.13,1138.54 741.81,1152.55 747.95,1153.51 754.86,1150.63 761.96,1147.75 768.1,1164.06 775.39,1147.75 782.68,1132.4 789.78,1116.09 796.49,1108.99 803.21,1094.98 809.93,1088.27 816.07,1100.74 823.93,1097.86 830.07,1105.54 837.75,1098.24 843.51,1085 849.98,1085.96 857.65,1076.75 863.99,1084.04 871.28,1078.67 877.8,1070.04 886.05,1081.55 891.81,1078.67 898.52,1086.35 906.2,1093.45 911.96,1101.7 919.06,1087.31 925.96,1087.31 933.45,1073.3 939.78,1074.26 945.92,1066.58 954.17,1065.24 959.93,1084.81 967.6,1081.55 974.32,1073.3 980.07,1072.34 987.37,1052.77 994.08,1043.17 1001.76,1035.11 1007.9,1059.1 1015.57,1059.87 1021.71,1053.15 1028.04,1061.98 1034.76,1056.99 1041.86,1051.81 1050.11,1067.54 1055.87,1059.48 1064.5,1068.5 1069.68,1068.5 1076.97,1049.89 1083.69,1031.28 1089.45,1035.88 1097.12,1029.74 1103.84,1018.8 1110.55,1041.25 1118.23,1056.61 1124.56,1071.96 1132.04,1095.94 1137.99,1087.88 1145.67,1089.23 1151.81,1081.55 1157.95,1069.46 1165.24,1073.3 1171.96,1077.33 1179.63,1092.1 1185.96,1098.24 1192.49,1088.27 1199.78,1087.88 1206.49,1065.24 1213.79,1053.15 1219.93,1056.61 1227.6,1069.46 1233.93,1062.36 1240.07,1080.97 1247.75,1076.75 1253.51,1072.92 1264,1089.8 1268.22,1093.06 1275.51,1111.29 1282.23,1133.74 1287.99,1125.68 1295.66,1117.43 1302.38,1103.04 1309.09,1106.88 1315.81,1110.72 1322.14,1119.35 1330.2,1113.21 1336.92,1104.58 1344.21,1093.45 1350.35,1094.98 1357.64,1115.51 1363.78,1097.28 1369.92,1094.98 1378.17,1104.19 1383.93,1103.23 1392.18,1098.82 1398.32,1109.37 1405.99,1107.45 1411.75,1094.02 1418.46,1076.18 1426.14,1064.28 1432.86,1061.02 1440.15,1054.3 1445.9,1067.16 1452.04,1065.82 1459.72,1074.26 1466.44,1088.27 1474.11,1098.44 1479.87,1097.48 1487.54,1087.31 1493.68,1102.66 1500.01,1089.8 1506.73,1106.88 1514.02,1121.85 1521.7,1107.45 1528.41,1113.21 1534.55,1111.29 1542.23,1110.33 1548.56,1113.21 1555.66,1122.23 1562.76,1134.89 1570.05,1153.12 1575.81,1157.34 1581.95,1145.25 1590.2,1138.73 1596.92,1141.42 1604.21,1144.3 1609.96,1117.43 1617.64,1116.47 1623.78,1096.9 1630.49,1086.35 1637.79,1104.19 1644.89,1091.72 1651.6,1078.29 1657.93,1095.37 1664.07,1083.47 1672.32,1088.84 1672.32,1170 43.53,1170" fill="url(#gos)" clip-path="url(#cos)"/>
<polyline points="131.29,1073.87 142.8,1081.55 154.32,1087.31 165.83,1094.98 177.34,1101.7 188.86,1107.84 200.37,1111.68 211.88,1113.21 223.39,1113.59 234.91,1115.7 246.42,1118.58 253.14,1119.35 261.77,1118.01 275.2,1115.7 288.63,1114.55 302.07,1114.17 313.58,1113.59 323.17,1111.29 334.69,1109.76 346.2,1107.45 357.71,1107.07 371.14,1107.84 384.58,1108.61 396.09,1108.99 407.6,1108.61 419.11,1109.37 426.79,1108.41 430,1106.49 435.76,1105.54 445.35,1106.88 454.94,1108.03 464.54,1107.45 474.13,1106.49 481.81,1107.45 495.24,1112.25 506.75,1119.93 522.1,1128.56 537.45,1135.85 548.97,1141.03 560.48,1148.71 570.07,1155.04 581.59,1159.65 595.02,1163.48 604.61,1167.9 614.21,1169.24 621.88,1169.82 629.56,1171.35 637.23,1170.39 646.83,1167.9 656.42,1164.06 666.01,1158.88 673.69,1154.46 685.2,1145.83 694.8,1141.61 702.47,1136.62 713.99,1135.66 723.58,1134.32 733.17,1132.78 742.77,1134.32 752.36,1136.24 761.96,1139.69 771.55,1143.91 781.14,1146.79 790.74,1144.87 802.25,1141.03 815.68,1132.4 827.2,1127.03 836.79,1122.8 840,1121.27 847.68,1115.13 857.27,1108.99 864.94,1102.66 872.62,1097.86 878.38,1092.49 891.81,1087.88 903.32,1086.92 912.92,1087.31 922.51,1085.77 932.1,1083.85 947.45,1081.17 958.97,1080.21 968.56,1080.59 978.15,1080.59 987.75,1078.1 999.26,1072.34 1008.86,1067.73 1022.29,1063.9 1033.8,1061.98 1043.39,1061.02 1049.15,1061.02 1055.87,1058.52 1064.5,1057.95 1070.26,1057.56 1081.77,1055.65 1091.37,1054.69 1098.08,1054.3 1104.8,1051.42 1110.55,1050.27 1117.27,1050.46 1125.9,1051.81 1135.5,1055.26 1143.17,1057.18 1152.77,1059.1 1162.36,1059.48 1171.96,1061.02 1181.55,1067.16 1191.14,1073.87 1198.82,1078.67 1205.54,1080.97 1213.21,1080.97 1221.85,1079.63 1233.36,1076.37 1242.95,1075.22 1256,1075.79 1264,1076.75 1275.51,1079.06 1287.03,1084.04 1296.62,1087.31 1308.13,1093.06 1319.65,1099.78 1329.24,1104.19 1336.92,1106.11 1346.51,1108.03 1356.1,1110.33 1363.78,1110.91 1373.37,1108.8 1382.97,1106.49 1394.48,1104.58 1405.99,1104.96 1411.75,1104 1421.34,1099.78 1432.86,1094.02 1444.37,1089.8 1453,1085.39 1463.56,1083.85 1475.07,1082.89 1486.58,1082.13 1494.26,1081.17 1500.01,1080.01 1507.69,1081.55 1515.37,1085.39 1523.04,1088.65 1532.63,1094.6 1542.23,1098.82 1551.82,1103.62 1561.42,1108.03 1569.09,1111.68 1578.69,1118.39 1584.44,1121.27 1590.2,1123.76 1597.87,1127.6 1605.55,1129.52 1617.06,1130.1 1624.74,1128.18 1630.49,1126.64 1636.25,1126.26 1643.93,1125.11 1649.68,1123.19 1657.36,1119.93 1665.03,1114.17 1672.32,1109.37" fill="none" stroke="#fdd835" stroke-width="2" stroke-linejoin="round"/>
<polyline points="43.53,1027.82 50.37,1055.65 57.21,1055.65 64.05,1051.42 70.89,1074.83 77.74,1072.34 84.58,1073.3 91.42,1065.24 98.26,1077.71 105.1,1081.55 111.95,1101.7 118.79,1090.76 125.63,1109.76 132.47,1103.62 139.31,1100.35 146.16,1104.58 153,1099.78 159.84,1111.29 166.68,1117.05 173.52,1130.86 180.37,1127.6 187.21,1126.07 194.05,1124.15 200.89,1120.5 207.73,1110.33 214.58,1099.78 221.42,1106.11 228.26,1111.29 235.1,1119.93 241.94,1132.4 248.79,1130.86 255.63,1108.41 262.47,1099.78 269.31,1118.97 276.15,1110.33 283,1109.76 289.84,1118.01 296.68,1108.41 303.52,1117.43 310.36,1104.58 317.21,1082.89 324.05,1085.96 330.89,1115.13 337.73,1121.27 344.57,1102.66 351.42,1102.66 358.26,1105.54 365.1,1112.25 371.94,1120.89 378.78,1116.09 385.63,1119.93 392.47,1116.09 399.31,1114.55 406.15,1095.37 412.99,1092.1 419.84,1092.1 426.68,1098.24 433.52,1089.8 440.55,1107.45 447.65,1118.01 453.99,1118.58 460.7,1114.17 467.8,1108.8 474.52,1110.72 481.81,1128.18 488.14,1155.04 495.24,1151.59 501.96,1156 507.71,1139.5 515.39,1146.79 522.1,1149.67 529.78,1138.15 535.92,1157.34 542.83,1162.72 549.93,1161.76 556.07,1172.69 563.74,1174.04 570.07,1174.23 576.79,1177.87 584.08,1183.82 591.76,1178.83 597.9,1182.29 604.23,1187.08 611.71,1163.1 618.04,1154.08 626.1,1164.63 631.86,1160.22 639.15,1142.95 645.87,1128.18 652.01,1141.61 659.3,1120.89 666.01,1124.34 673.11,1117.43 680.02,1111.29 686.55,1120.5 693.84,1138.54 700.55,1132.4 707.27,1141.99 714.56,1147.37 721.66,1150.63 727.99,1142.95 734.13,1138.54 741.81,1152.55 747.95,1153.51 754.86,1150.63 761.96,1147.75 768.1,1164.06 775.39,1147.75 782.68,1132.4 789.78,1116.09 796.49,1108.99 803.21,1094.98 809.93,1088.27 816.07,1100.74 823.93,1097.86 830.07,1105.54 837.75,1098.24 843.51,1085 849.98,1085.96 857.65,1076.75 863.99,1084.04 871.28,1078.67 877.8,1070.04 886.05,1081.55 891.81,1078.67 898.52,1086.35 906.2,1093.45 911.96,1101.7 919.06,1087.31 925.96,1087.31 933.45,1073.3 939.78,1074.26 945.92,1066.58 954.17,1065.24 959.93,1084.81 967.6,1081.55 974.32,1073.3 980.07,1072.34 987.37,1052.77 994.08,1043.17 1001.76,1035.11 1007.9,1059.1 1015.57,1059.87 1021.71,1053.15 1028.04,1061.98 1034.76,1056.99 1041.86,1051.81 1050.11,1067.54 1055.87,1059.48 1064.5,1068.5 1069.68,1068.5 1076.97,1049.89 1083.69,1031.28 1089.45,1035.88 1097.12,1029.74 1103.84,1018.8 1110.55,1041.25 1118.23,1056.61 1124.56,1071.96 1132.04,1095.94 1137.99,1087.88 1145.67,1089.23 1151.81,1081.55 1157.95,1069.46 1165.24,1073.3 1171.96,1077.33 1179.63,1092.1 1185.96,1098.24 1192.49,1088.27 1199.78,1087.88 1206.49,1065.24 1213.79,1053.15 1219.93,1056.61 1227.6,1069.46 1233.93,1062.36 1240.07,1080.97 1247.75,1076.75 1253.51,1072.92 1264,1089.8 1268.22,1093.06 1275.51,1111.29 1282.23,1133.74 1287.99,1125.68 1295.66,1117.43 1302.38,1103.04 1309.09,1106.88 1315.81,1110.72 1322.14,1119.35 1330.2,1113.21 1336.92,1104.58 1344.21,1093.45 1350.35,1094.98 1357.64,1115.51 1363.78,1097.28 1369.92,1094.98 1378.17,1104.19 1383.93,1103.23 1392.18,1098.82 1398.32,1109.37 1405.99,1107.45 1411.75,1094.02 1418.46,1076.18 1426.14,1064.28 1432.86,1061.02 1440.15,1054.3 1445.9,1067.16 1452.04,1065.82 1459.72,1074.26 1466.44,1088.27 1474.11,1098.44 1479.87,1097.48 1487.54,1087.31 1493.68,1102.66 1500.01,1089.8 1506.73,1106.88 1514.02,1121.85 1521.7,1107.45 1528.41,1113.21 1534.55,1111.29 1542.23,1110.33 1548.56,1113.21 1555.66,1122.23 1562.76,1134.89 1570.05,1153.12 1575.81,1157.34 1581.95,1145.25 1590.2,1138.73 1596.92,1141.42 1604.21,1144.3 1609.96,1117.43 1617.64,1116.47 1623.78,1096.9 1630.49,1086.35 1637.79,1104.19 1644.89,1091.72 1651.6,1078.29 1657.93,1095.37 1664.07,1083.47 1672.32,1088.84" fill="none" stroke="#7e57c2" stroke-width="2" stroke-linejoin="round"/>
<text id="t41" x="35.51" y="1037.6" font-size="24" fill="#131722" textLength="37.29" lengthAdjust="spacing">RSI</text>
<text id="t42" x="80.77" y="1037.6" font-size="24" fill="#131722" textLength="39.93" lengthAdjust="spacing">(14,</text>
<text id="t43" x="128.08" y="1037.6" font-size="24" fill="#131722" textLength="69.41" lengthAdjust="spacing">close)</text>
<text id="t44" x="211.67" y="1037.6" font-size="24" fill="#7e57c2" textLength="63.82" lengthAdjust="spacing">59.79</text>
<text id="t45" x="289.07" y="1037.6" font-size="24" fill="#fdd835" textLength="65.54" lengthAdjust="spacing">52.23</text>
<text id="t46" x="2022.52" y="1055.9" font-size="24" fill="#131722" textLength="66.16" lengthAdjust="spacing">75.00</text>
<text id="t47" x="2022.74" y="1191.9" font-size="24" fill="#131722" textLength="65.94" lengthAdjust="spacing">25.00</text>
<path d="M2006 1072 H2096.5 A3.5 3.5 0 0 1 2100 1075.5 V1102.4 A3.5 3.5 0 0 1 2096.5 1105.9 H2006 Z" fill="#7e57c2"/>
<text id="t48" x="2022.67" y="1096.8" font-size="24" fill="#fff" textLength="66.56" lengthAdjust="spacing">59.79</text>
<path d="M2006 1106.2 H2096.5 A3.5 3.5 0 0 1 2100 1109.7 V1136.3 A3.5 3.5 0 0 1 2096.5 1139.8 H2006 Z" fill="#fdd835"/>
<text id="t49" x="2022.67" y="1130.5" font-size="24" fill="#000" textLength="66.57" lengthAdjust="spacing">52.23</text>
<g shape-rendering="crispEdges">
<rect x="172" y="1330.9" width="5" height="26.86" fill="#ff5252"/>
<rect x="179" y="1330.9" width="5" height="27.82" fill="#ff5252"/>
<rect x="186" y="1330.9" width="5" height="25.9" fill="#ffcdd2"/>
<rect x="192" y="1330.9" width="5" height="23.41" fill="#ffcdd2"/>
<rect x="199" y="1330.9" width="5" height="20.72" fill="#ffcdd2"/>
<rect x="206" y="1330.9" width="5" height="15.73" fill="#ffcdd2"/>
<rect x="213" y="1330.9" width="5" height="9.98" fill="#ffcdd2"/>
<rect x="220" y="1330.9" width="5" height="6.72" fill="#ffcdd2"/>
<rect x="227" y="1330.9" width="5" height="2.88" fill="#ffcdd2"/>
<rect x="233" y="1330.9" width="5" height="5.76" fill="#ff5252"/>
<rect x="240" y="1330.9" width="5" height="8.06" fill="#ff5252"/>
<rect x="247" y="1330.9" width="5" height="9.59" fill="#ff5252"/>
<rect x="254" y="1330.9" width="5" height="4.8" fill="#ffcdd2"/>
<rect x="261" y="1330.9" width="5" height="1.6" fill="#ffcdd2"/>
<rect x="268" y="1330.9" width="5" height="1.92" fill="#ff5252"/>
<rect x="274" y="1329.36" width="5" height="1.6" fill="#26a69a"/>
<rect x="281" y="1328.98" width="5" height="1.92" fill="#26a69a"/>
<rect x="288" y="1329.94" width="5" height="1.6" fill="#b2dfdb"/>
<rect x="295" y="1328.98" width="5" height="1.92" fill="#26a69a"/>
<rect x="302" y="1329.94" width="5" height="1.6" fill="#b2dfdb"/>
<rect x="309" y="1328.02" width="5" height="2.88" fill="#26a69a"/>
<rect x="315" y="1322.27" width="5" height="8.63" fill="#26a69a"/>
<rect x="322" y="1319" width="5" height="11.9" fill="#26a69a"/>
<rect x="329" y="1323.22" width="5" height="7.68" fill="#b2dfdb"/>
<rect x="336" y="1328.02" width="5" height="2.88" fill="#b2dfdb"/>
<rect x="343" y="1326.68" width="5" height="4.22" fill="#26a69a"/>
<rect x="350" y="1325.72" width="5" height="5.18" fill="#26a69a"/>
<rect x="356" y="1327.06" width="5" height="3.84" fill="#b2dfdb"/>
<rect x="363" y="1328.98" width="5" height="1.92" fill="#b2dfdb"/>
<rect x="370" y="1330.9" width="5" height="1.92" fill="#ff5252"/>
<rect x="377" y="1330.9" width="5" height="2.88" fill="#ff5252"/>
<rect x="384" y="1330.9" width="5" height="3.84" fill="#ff5252"/>
<rect x="391" y="1330.9" width="5" height="3.84" fill="#ff5252"/>
<rect x="398" y="1330.9" width="5" height="3.45" fill="#ffcdd2"/>
<rect x="404" y="1329.94" width="5" height="1.6" fill="#26a69a"/>
<rect x="411" y="1327.06" width="5" height="3.84" fill="#26a69a"/>
<rect x="418" y="1325.14" width="5" height="5.76" fill="#26a69a"/>
<rect x="425" y="1326.1" width="5" height="4.8" fill="#b2dfdb"/>
<rect x="432" y="1324.18" width="5" height="6.72" fill="#26a69a"/>
<rect x="439" y="1326.1" width="5" height="4.8" fill="#b2dfdb"/>
<rect x="445" y="1330.32" width="5" height="1.6" fill="#b2dfdb"/>
<rect x="452" y="1330.9" width="5" height="1.92" fill="#ff5252"/>
<rect x="459" y="1330.9" width="5" height="2.88" fill="#ff5252"/>
<rect x="466" y="1330.9" width="5" height="1.92" fill="#ffcdd2"/>
<rect x="473" y="1330.9" width="5" height="2.88" fill="#ff5252"/>
<rect x="480" y="1330.9" width="5" height="5.76" fill="#ff5252"/>
<rect x="486" y="1330.9" width="5" height="11.9" fill="#ff5252"/>
<rect x="493" y="1330.9" width="5" height="15.73" fill="#ff5252"/>
<rect x="500" y="1330.9" width="5" height="17.65" fill="#ff5252"/>
<rect x="507" y="1330.9" width="5" height="15.73" fill="#ffcdd2"/>
<rect x="514" y="1330.9" width="5" height="15.73" fill="#ffcdd2"/>
<rect x="521" y="1330.9" width="5" height="13.43" fill="#ffcdd2"/>
<rect x="528" y="1330.9" width="5" height="12.47" fill="#ffcdd2"/>
<rect x="534" y="1330.9" width="5" height="13.82" fill="#ff5252"/>
<rect x="541" y="1330.9" width="5" height="15.73" fill="#ff5252"/>
<rect x="548" y="1330.9" width="5" height="15.73" fill="#ffcdd2"/>
<rect x="555" y="1330.9" width="5" height="16.69" fill="#ff5252"/>
<rect x="562" y="1330.9" width="5" height="17.65" fill="#ff5252"/>
<rect x="569" y="1330.9" width="5" height="16.69" fill="#ffcdd2"/>
<rect x="575" y="1330.9" width="5" height="15.73" fill="#ffcdd2"/>
<rect x="582" y="1330.9" width="5" height="15.73" fill="#ffcdd2"/>
<rect x="589" y="1330.9" width="5" height="13.82" fill="#ffcdd2"/>
<rect x="596" y="1330.9" width="5" height="12.47" fill="#ffcdd2"/>
<rect x="603" y="1330.9" width="5" height="11.51" fill="#ffcdd2"/>
<rect x="610" y="1330.9" width="5" height="8.63" fill="#ffcdd2"/>
<rect x="616" y="1330.9" width="5" height="3.84" fill="#ffcdd2"/>
<rect x="623" y="1330.9" width="5" height="2.3" fill="#ffcdd2"/>
<rect x="630" y="1330.9" width="5" height="1.6" fill="#ffcdd2"/>
<rect x="637" y="1328.02" width="5" height="2.88" fill="#26a69a"/>
<rect x="644" y="1324.18" width="5" height="6.72" fill="#26a69a"/>
<rect x="651" y="1323.22" width="5" height="7.68" fill="#26a69a"/>
<rect x="657" y="1319.96" width="5" height="10.94" fill="#26a69a"/>
<rect x="664" y="1318.04" width="5" height="12.86" fill="#26a69a"/>
<rect x="671" y="1316.13" width="5" height="14.77" fill="#26a69a"/>
<rect x="678" y="1315.17" width="5" height="15.73" fill="#26a69a"/>
<rect x="685" y="1316.13" width="5" height="14.77" fill="#b2dfdb"/>
<rect x="692" y="1319.96" width="5" height="10.94" fill="#b2dfdb"/>
<rect x="698" y="1322.27" width="5" height="8.63" fill="#b2dfdb"/>
<rect x="705" y="1325.14" width="5" height="5.76" fill="#b2dfdb"/>
<rect x="712" y="1328.02" width="5" height="2.88" fill="#b2dfdb"/>
<rect x="719" y="1329.94" width="5" height="1.6" fill="#b2dfdb"/>
<rect x="726" y="1330.32" width="5" height="1.6" fill="#b2dfdb"/>
<rect x="733" y="1330.13" width="5" height="1.6" fill="#26a69a"/>
<rect x="740" y="1330.9" width="5" height="1.92" fill="#ff5252"/>
<rect x="746" y="1330.9" width="5" height="2.88" fill="#ff5252"/>
<rect x="753" y="1330.9" width="5" height="2.49" fill="#ffcdd2"/>
<rect x="760" y="1330.9" width="5" height="1.92" fill="#ffcdd2"/>
<rect x="767" y="1330.9" width="5" height="3.84" fill="#ff5252"/>
<rect x="774" y="1330.9" width="5" height="2.49" fill="#ffcdd2"/>
<rect x="781" y="1330.9" width="5" height="1.6" fill="#ffcdd2"/>
<rect x="787" y="1328.02" width="5" height="2.88" fill="#26a69a"/>
<rect x="794" y="1324.18" width="5" height="6.72" fill="#26a69a"/>
<rect x="801" y="1319" width="5" height="11.9" fill="#26a69a"/>
<rect x="808" y="1316.13" width="5" height="14.77" fill="#26a69a"/>
<rect x="815" y="1316.13" width="5" height="14.77" fill="#26a69a"/>
<rect x="822" y="1316.13" width="5" height="14.77" fill="#26a69a"/>
<rect x="828" y="1317.08" width="5" height="13.82" fill="#b2dfdb"/>
<rect x="835" y="1318.04" width="5" height="12.86" fill="#b2dfdb"/>
<rect x="842" y="1317.08" width="5" height="13.82" fill="#26a69a"/>
<rect x="849" y="1318.04" width="5" height="12.86" fill="#b2dfdb"/>
<rect x="856" y="1316.13" width="5" height="14.77" fill="#26a69a"/>
<rect x="863" y="1317.08" width="5" height="13.82" fill="#b2dfdb"/>
<rect x="870" y="1317.08" width="5" height="13.82" fill="#b2dfdb"/>
<rect x="876" y="1317.08" width="5" height="13.82" fill="#26a69a"/>
<rect x="883" y="1319" width="5" height="11.9" fill="#b2dfdb"/>
<rect x="890" y="1319.96" width="5" height="10.94" fill="#b2dfdb"/>
<rect x="897" y="1321.88" width="5" height="9.02" fill="#b2dfdb"/>
<rect x="904" y="1325.14" width="5" height="5.76" fill="#b2dfdb"/>
<rect x="911" y="1328.02" width="5" height="2.88" fill="#b2dfdb"/>
<rect x="917" y="1328.02" width="5" height="2.88" fill="#b2dfdb"/>
<rect x="924" y="1329.36" width="5" height="1.6" fill="#b2dfdb"/>
<rect x="931" y="1328.02" width="5" height="2.88" fill="#26a69a"/>
<rect x="938" y="1327.06" width="5" height="3.84" fill="#26a69a"/>
<rect x="945" y="1326.1" width="5" height="4.8" fill="#26a69a"/>
<rect x="952" y="1325.14" width="5" height="5.76" fill="#26a69a"/>
<rect x="958" y="1327.06" width="5" height="3.84" fill="#b2dfdb"/>
<rect x="965" y="1328.02" width="5" height="2.88" fill="#b2dfdb"/>
<rect x="972" y="1328.02" width="5" height="2.88" fill="#b2dfdb"/>
<rect x="979" y="1328.98" width="5" height="1.92" fill="#b2dfdb"/>
<rect x="986" y="1326.1" width="5" height="4.8" fill="#26a69a"/>
<rect x="993" y="1322.27" width="5" height="8.63" fill="#26a69a"/>
<rect x="999" y="1318.04" width="5" height="12.86" fill="#26a69a"/>
<rect x="1006" y="1319" width="5" height="11.9" fill="#b2dfdb"/>
<rect x="1013" y="1320.92" width="5" height="9.98" fill="#b2dfdb"/>
<rect x="1020" y="1320.92" width="5" height="9.98" fill="#b2dfdb"/>
<rect x="1027" y="1322.84" width="5" height="8.06" fill="#b2dfdb"/>
<rect x="1034" y="1324.18" width="5" height="6.72" fill="#b2dfdb"/>
<rect x="1040" y="1324.18" width="5" height="6.72" fill="#b2dfdb"/>
<rect x="1047" y="1326.1" width="5" height="4.8" fill="#b2dfdb"/>
<rect x="1054" y="1327.06" width="5" height="3.84" fill="#b2dfdb"/>
<rect x="1061" y="1328.98" width="5" height="1.92" fill="#b2dfdb"/>
<rect x="1068" y="1329.94" width="5" height="1.6" fill="#b2dfdb"/>
<rect x="1075" y="1328.98" width="5" height="1.92" fill="#26a69a"/>
<rect x="1082" y="1320.92" width="5" height="9.98" fill="#26a69a"/>
<rect x="1088" y="1317.08" width="5" height="13.82" fill="#26a69a"/>
<rect x="1095" y="1314.01" width="5" height="16.89" fill="#26a69a"/>
<rect x="1102" y="1305.96" width="5" height="24.94" fill="#26a69a"/>
<rect x="1109" y="1306.91" width="5" height="23.99" fill="#b2dfdb"/>
<rect x="1116" y="1311.14" width="5" height="19.76" fill="#b2dfdb"/>
<rect x="1123" y="1318.04" width="5" height="12.86" fill="#b2dfdb"/>
<rect x="1129" y="1328.02" width="5" height="2.88" fill="#b2dfdb"/>
<rect x="1136" y="1330.9" width="5" height="2.88" fill="#ff5252"/>
<rect x="1143" y="1330.9" width="5" height="6.72" fill="#ff5252"/>
<rect x="1150" y="1330.9" width="5" height="8.06" fill="#ff5252"/>
<rect x="1157" y="1330.9" width="5" height="4.8" fill="#ffcdd2"/>
<rect x="1164" y="1330.9" width="5" height="4.8" fill="#ffcdd2"/>
<rect x="1170" y="1330.9" width="5" height="4.8" fill="#ff5252"/>
<rect x="1177" y="1330.9" width="5" height="9.02" fill="#ff5252"/>
<rect x="1184" y="1330.9" width="5" height="12.86" fill="#ff5252"/>
<rect x="1191" y="1330.9" width="5" height="11.9" fill="#ffcdd2"/>
<rect x="1198" y="1330.9" width="5" height="11.9" fill="#ffcdd2"/>
<rect x="1205" y="1330.9" width="5" height="5.76" fill="#ffcdd2"/>
<rect x="1212" y="1327.06" width="5" height="3.84" fill="#26a69a"/>
<rect x="1218" y="1323.22" width="5" height="7.68" fill="#26a69a"/>
<rect x="1225" y="1324.18" width="5" height="6.72" fill="#b2dfdb"/>
<rect x="1232" y="1322.27" width="5" height="8.63" fill="#26a69a"/>
<rect x="1239" y="1326.1" width="5" height="4.8" fill="#b2dfdb"/>
<rect x="1246" y="1328.02" width="5" height="2.88" fill="#b2dfdb"/>
<rect x="1253" y="1328.98" width="5" height="1.92" fill="#b2dfdb"/>
<rect x="1259" y="1330.9" width="5" height="1.92" fill="#ff5252"/>
<rect x="1266" y="1330.9" width="5" height="6.72" fill="#ff5252"/>
<rect x="1273" y="1330.9" width="5" height="13.82" fill="#ff5252"/>
<rect x="1280" y="1330.9" width="5" height="23.6" fill="#ff5252"/>
<rect x="1287" y="1330.9" width="5" height="26.86" fill="#ff5252"/>
<rect x="1294" y="1330.9" width="5" height="26.86" fill="#ffcdd2"/>
<rect x="1300" y="1330.9" width="5" height="22.07" fill="#ffcdd2"/>
<rect x="1307" y="1330.9" width="5" height="18.8" fill="#ffcdd2"/>
<rect x="1314" y="1330.9" width="5" height="17.65" fill="#ffcdd2"/>
<rect x="1321" y="1330.9" width="5" height="17.65" fill="#ff5252"/>
<rect x="1328" y="1330.9" width="5" height="16.69" fill="#ffcdd2"/>
<rect x="1335" y="1330.9" width="5" height="12.86" fill="#ffcdd2"/>
<rect x="1341" y="1330.9" width="5" height="8.06" fill="#ffcdd2"/>
<rect x="1348" y="1330.9" width="5" height="3.84" fill="#ffcdd2"/>
<rect x="1355" y="1330.9" width="5" height="5.76" fill="#ff5252"/>
<rect x="1362" y="1330.9" width="5" height="2.88" fill="#ffcdd2"/>
<rect x="1369" y="1330.13" width="5" height="1.6" fill="#26a69a"/>
<rect x="1376" y="1330.9" width="5" height="1.6" fill="#ff5252"/>
<rect x="1382" y="1330.9" width="5" height="1.6" fill="#ff5252"/>
<rect x="1389" y="1330.13" width="5" height="1.6" fill="#26a69a"/>
<rect x="1396" y="1330.9" width="5" height="1.92" fill="#ff5252"/>
<rect x="1403" y="1330.9" width="5" height="2.88" fill="#ff5252"/>
<rect x="1410" y="1329.94" width="5" height="1.6" fill="#26a69a"/>
<rect x="1417" y="1325.14" width="5" height="5.76" fill="#26a69a"/>
<rect x="1424" y="1317.08" width="5" height="13.82" fill="#26a69a"/>
<rect x="1430" y="1313.05" width="5" height="17.85" fill="#26a69a"/>
<rect x="1437" y="1308.26" width="5" height="22.64" fill="#26a69a"/>
<rect x="1444" y="1309.22" width="5" height="21.68" fill="#b2dfdb"/>
<rect x="1451" y="1310.18" width="5" height="20.72" fill="#b2dfdb"/>
<rect x="1458" y="1314.21" width="5" height="16.69" fill="#b2dfdb"/>
<rect x="1465" y="1319.96" width="5" height="10.94" fill="#b2dfdb"/>
<rect x="1471" y="1327.06" width="5" height="3.84" fill="#b2dfdb"/>
<rect x="1478" y="1330.9" width="5" height="1.92" fill="#ff5252"/>
<rect x="1485" y="1330.9" width="5" height="2.88" fill="#ff5252"/>
<rect x="1492" y="1330.9" width="5" height="5.76" fill="#ff5252"/>
<rect x="1499" y="1330.9" width="5" height="5.76" fill="#ffcdd2"/>
<rect x="1506" y="1330.9" width="5" height="9.98" fill="#ff5252"/>
<rect x="1512" y="1330.9" width="5" height="14.77" fill="#ff5252"/>
<rect x="1519" y="1330.9" width="5" height="13.82" fill="#ffcdd2"/>
<rect x="1526" y="1330.9" width="5" height="14.77" fill="#ff5252"/>
<rect x="1533" y="1330.9" width="5" height="14.77" fill="#ffcdd2"/>
<rect x="1540" y="1330.9" width="5" height="13.82" fill="#ffcdd2"/>
<rect x="1547" y="1330.9" width="5" height="12.86" fill="#ffcdd2"/>
<rect x="1553" y="1330.9" width="5" height="14.77" fill="#ff5252"/>
<rect x="1560" y="1330.9" width="5" height="16.69" fill="#ff5252"/>
<rect x="1567" y="1330.9" width="5" height="22.64" fill="#ff5252"/>
<rect x="1574" y="1330.9" width="5" height="26.86" fill="#ff5252"/>
<rect x="1581" y="1330.9" width="5" height="25.9" fill="#ffcdd2"/>
<rect x="1588" y="1330.9" width="5" height="23.6" fill="#ffcdd2"/>
<rect x="1595" y="1330.9" width="5" height="20.72" fill="#ffcdd2"/>
<rect x="1601" y="1330.9" width="5" height="18.8" fill="#ffcdd2"/>
<rect x="1608" y="1330.9" width="5" height="12.86" fill="#ffcdd2"/>
<rect x="1615" y="1330.9" width="5" height="6.72" fill="#ffcdd2"/>
<rect x="1622" y="1328.98" width="5" height="1.92" fill="#26a69a"/>
<rect x="1629" y="1322.27" width="5" height="8.63" fill="#26a69a"/>
<rect x="1636" y="1320.92" width="5" height="9.98" fill="#26a69a"/>
<rect x="1642" y="1318.04" width="5" height="12.86" fill="#26a69a"/>
<rect x="1649" y="1313.05" width="5" height="17.85" fill="#26a69a"/>
<rect x="1656" y="1313.05" width="5" height="17.85" fill="#b2dfdb"/>
<rect x="1663" y="1311.14" width="5" height="19.76" fill="#26a69a"/>
<rect x="1670" y="1312.1" width="5" height="18.8" fill="#b2dfdb"/>
</g>
<line x1="20" y1="1330.9" x2="2004" y2="1330.9" stroke="#787b86" stroke-opacity="0.5" stroke-width="2" stroke-dasharray="10 12"/>
<polyline points="119.78,1270.44 125.54,1280.04 132.25,1287.71 138.97,1291.55 146.64,1297.88 153.74,1300.18 161.99,1309.78 171.59,1321.29 179.26,1330.89 186.94,1337.03 194.61,1339.52 201.33,1340.48 208.04,1338.18 214.76,1334.72 221.48,1333.76 228.19,1332.8 235.87,1335.68 242.58,1340.48 249.68,1343.36 256.97,1339.52 262.73,1335.68 269.45,1337.03 277.12,1335.11 283.84,1333.76 290.55,1333.76 298.23,1332.8 304.56,1332.42 311.66,1329.93 317.42,1323.21 324.13,1315.92 330.85,1318.41 337.95,1322.83 345.24,1320.33 351.96,1318.8 358.67,1318.41 365.39,1320.33 373.06,1323.79 379.78,1325.13 386.49,1327.43 393.21,1328.39 399.93,1327.62 406.64,1324.17 413.36,1320.91 421.03,1317.07 427.75,1315.15 430,1314.58 434.8,1313.04 441.51,1314.58 448.23,1317.45 454.94,1320.33 462.62,1321.68 472.21,1322.25 481.81,1326.09 487.56,1334.72 495.24,1343.36 501.96,1349.5 508.67,1352.38 515.39,1354.87 522.1,1357.75 528.82,1357.75 536.49,1364.08 543.21,1368.3 549.93,1372.14 556.64,1378.28 564.32,1382.69 571.03,1385.57 577.75,1388.07 584.46,1391.71 591.18,1393.25 597.9,1395.17 604.23,1397.08 611.33,1395.55 618.04,1391.9 624.76,1391.71 631.48,1389.79 639.15,1384.61 645.87,1379.43 652.58,1376.55 659.3,1371.76 666.01,1366.38 672.73,1361.97 679.45,1356.21 686.16,1351.99 693.84,1352.95 700.55,1352.95 707.27,1354.3 713.99,1356.79 720.7,1358.32 727.42,1358.71 734.13,1358.71 741.81,1361.2 748.52,1362.55 755.24,1362.93 761.96,1362.55 768.67,1365.42 775.39,1365.04 782.1,1364.46 789.78,1360.24 796.49,1353.91 803.21,1347.2 809.93,1338.94 816.64,1334.72 823.36,1331.85 830.07,1329.35 837.75,1326.66 840,1324.55 849.59,1316.49 859.19,1311.7 870.7,1308.44 878.38,1304.02 891.81,1301.14 897.56,1301.14 905.24,1302.49 911.96,1304.98 918.67,1304.98 926.35,1304.98 932.1,1303.45 939.78,1301.14 945.54,1298.84 954.17,1296.92 962.8,1298.27 970.48,1298.27 981.03,1297.69 987.75,1293.85 994.46,1287.33 1002.14,1280.04 1008.86,1277.73 1014.61,1277.16 1022.29,1274.86 1029.96,1275.24 1035.72,1274.28 1042.44,1272.36 1050.11,1273.9 1055.87,1272.94 1062.58,1273.9 1069.3,1275.24 1076.01,1274.28 1082.73,1264.3 1089.45,1257.01 1097.12,1249.34 1102.88,1236.86 1110.55,1229.19 1118.23,1228.8 1123.99,1232.07 1131.66,1240.7 1138.38,1247.42 1145.09,1252.21 1151.81,1255.67 1158.52,1253.75 1166.2,1254.13 1171.96,1256.05 1178.67,1260.85 1186.35,1268.14 1193.06,1271.4 1199.78,1273.32 1206.49,1267.18 1213.21,1258.93 1219.93,1252.79 1227.6,1251.25 1234.32,1247.99 1241.03,1250.68 1247.75,1250.87 1256,1251.64 1264,1257.97 1269.76,1263.73 1276.47,1271.4 1282.23,1285.79 1287.99,1297.31 1295.66,1303.45 1302.38,1304.02 1309.09,1305.94 1315.81,1308.82 1322.52,1313.62 1330.2,1315.92 1335.96,1315.54 1342.67,1312.27 1350.35,1309.2 1357.64,1313.04 1363.78,1310.35 1369.92,1306.9 1377.21,1307.48 1383.93,1308.24 1391.6,1307.28 1398.32,1309.39 1405.99,1310.74 1411.75,1308.44 1418.46,1299.8 1426.14,1288.67 1432.86,1279.08 1440.15,1270.44 1446.29,1265.65 1453,1261.81 1459.72,1261.81 1466.44,1265.65 1473.15,1270.06 1479.87,1275.24 1486.58,1277.16 1494.26,1282.53 1500.01,1283.49 1507.69,1289.06 1514.02,1297.69 1521.12,1300.57 1528.41,1305.37 1534.55,1308.44 1542.23,1310.74 1548.56,1313.62 1555.66,1317.45 1562.76,1325.13 1570.05,1335.68 1575.81,1345.66 1582.52,1351.99 1590.2,1354.87 1596.92,1357.75 1604.21,1360.05 1610.35,1355.83 1618.02,1352.38 1623.78,1344.32 1630.49,1334.72 1637.79,1331.27 1644.89,1325.13 1651.6,1315.15 1657.93,1310.74 1664.07,1303.45 1672.32,1299.61" fill="none" stroke="#2962ff" stroke-width="2" stroke-linejoin="round"/>
<polyline points="173.51,1296.92 181.18,1304.02 188.86,1310.74 196.53,1317.07 204.21,1321.87 211.88,1325.13 219.56,1327.05 229.15,1328.58 238.75,1330.89 246.42,1333.38 254.1,1334.72 262.73,1335.68 269.45,1336.26 277.12,1335.68 288.63,1335.11 298.23,1334.72 307.82,1333.76 315.5,1331.85 323.17,1328.97 330.85,1326.66 338.52,1325.13 346.2,1323.59 355.79,1322.25 365.39,1321.68 374.98,1322.63 384.58,1323.79 394.17,1325.13 401.85,1325.51 409.52,1324.55 417.2,1323.21 426.79,1320.91 430,1320.91 437.68,1318.99 447.27,1318.99 456.86,1319.76 468.38,1320.33 480.85,1321.29 487.56,1323.79 497.16,1328.58 506.75,1335.11 516.35,1340.48 525.94,1345.28 535.54,1350.07 545.13,1355.25 554.72,1361.59 564.32,1366.77 573.91,1372.14 583.51,1376.94 593.1,1380.77 602.69,1385 612.29,1387.49 621.88,1388.83 631.48,1389.41 641.07,1388.07 650.66,1385.57 660.26,1382.12 671.77,1376.36 679.45,1371.56 687.12,1367.34 698.63,1362.93 708.23,1361.01 717.82,1359.67 727.42,1359.67 737.01,1359.67 746.61,1360.24 756.2,1361.01 765.79,1361.97 775.39,1362.74 784.98,1362.93 794.58,1361.2 804.17,1357.75 813.76,1351.42 823.36,1346.24 832.95,1341.82 840,1337.99 849.59,1331.85 859.19,1326.66 868.78,1321.87 878.38,1318.03 887.97,1314 897.56,1310.16 905.24,1308.82 916.75,1307.48 926.35,1306.9 935.94,1305.94 947.45,1303.64 958.97,1301.72 970.48,1300.76 980.07,1299.8 989.67,1297.88 999.26,1294.04 1008.86,1289.63 1018.45,1286.37 1028.04,1282.92 1037.64,1280.61 1045.31,1279.08 1054.91,1277.73 1062.58,1276.77 1070.26,1276.2 1077.93,1275.82 1083.69,1274.28 1091.37,1269.87 1099.04,1265.65 1108.63,1255.09 1116.31,1249.72 1123.99,1245.5 1131.66,1244.54 1139.34,1245.5 1147.01,1247.42 1154.69,1248.95 1164.28,1250.3 1171.96,1251.25 1179.63,1253.75 1187.31,1257.39 1196.9,1261.42 1205.54,1263.73 1212.25,1263.15 1221.85,1259.89 1229.52,1257.97 1237.2,1256.05 1244.87,1254.71 1256,1254.13 1264,1254.52 1269.76,1256.05 1276.47,1259.31 1287.99,1271.79 1302.38,1283.3 1311.97,1289.06 1321.56,1295.77 1335.96,1303.06 1346.51,1305.37 1359.94,1307.28 1373.37,1307.86 1386.8,1307.86 1398.32,1307.86 1411.75,1308.82 1418.46,1306.9 1426.14,1303.45 1432.86,1298.65 1440.15,1293.85 1446.29,1288.1 1453,1282.53 1459.72,1279.08 1466.44,1276.2 1473.15,1275.24 1479.87,1274.86 1486.58,1275.24 1494.26,1276.77 1507.69,1280.04 1521.12,1286.75 1532.63,1292.89 1542.23,1297.31 1555.66,1304.02 1570.05,1313.62 1580.61,1324.17 1590.2,1332.8 1599.79,1339.9 1609.39,1344.32 1617.06,1345.85 1623.78,1345.85 1630.49,1343.74 1638.17,1341.44 1644.89,1338.18 1651.6,1334.15 1657.93,1329.93 1664.07,1323.79 1672.32,1318.8" fill="none" stroke="#ff6d00" stroke-width="2" stroke-linejoin="round"/>
<text id="t50" x="35.51" y="1247.5" font-size="24" fill="#131722" textLength="71.48" lengthAdjust="spacing">MACD</text>
<text id="t51" x="115.77" y="1247.5" font-size="24" fill="#131722" textLength="39.17" lengthAdjust="spacing">(12,</text>
<text id="t52" x="161.86" y="1247.5" font-size="24" fill="#131722" textLength="34.84" lengthAdjust="spacing">26,</text>
<text id="t53" x="204.08" y="1247.5" font-size="24" fill="#131722" textLength="68.89" lengthAdjust="spacing">close)</text>
<text id="t54" x="287.59" y="1247.5" font-size="24" fill="#b2dfdb" textLength="64.43" lengthAdjust="spacing">0.768</text>
<text id="t55" x="364.77" y="1247.5" font-size="24" fill="#2962ff" textLength="61.94" lengthAdjust="spacing">1.250</text>
<text id="t56" x="440.87" y="1247.5" font-size="24" fill="#ff6d00" textLength="61.66" lengthAdjust="spacing">0.481</text>
<text id="t57" x="2022.74" y="1277.5" font-size="24" fill="#131722" textLength="67.96" lengthAdjust="spacing">2.500</text>
<text id="t58" x="2021.75" y="1400.75" font-size="24" fill="#131722" textLength="82.25" lengthAdjust="spacing">−2.500</text>
<path d="M2006 1260.9 H2096.5 A3.5 3.5 0 0 1 2100 1264.4 V1291.4 A3.5 3.5 0 0 1 2096.5 1294.9 H2006 Z" fill="#2962ff"/>
<text id="t59" x="2022.72" y="1285.7" font-size="24" fill="#fff" textLength="65.97" lengthAdjust="spacing">1.250</text>
<path d="M2006 1295.2 H2096.5 A3.5 3.5 0 0 1 2100 1298.7 V1325.4 A3.5 3.5 0 0 1 2096.5 1328.9 H2006 Z" fill="#b2dfdb"/>
<text id="t60" x="2022.21" y="1319.5" font-size="24" fill="#000" textLength="67" lengthAdjust="spacing">0.768</text>
<path d="M2006 1329.1 H2096.5 A3.5 3.5 0 0 1 2100 1332.6 V1359.4 A3.5 3.5 0 0 1 2096.5 1362.9 H2006 Z" fill="#ff6d00"/>
<text id="t61" x="2022.21" y="1353.8" font-size="24" fill="#fff" textLength="64.31" lengthAdjust="spacing">0.481</text>
<text id="t62" x="87.35" y="1454.1" font-size="24" fill="#131722" textLength="64.24" lengthAdjust="spacing" font-weight="bold">2025</text>
<text id="t63" x="308.51" y="1454.1" font-size="24" fill="#131722" textLength="44.28" lengthAdjust="spacing">Feb</text>
<text id="t64" x="499.51" y="1454.1" font-size="24" fill="#131722" textLength="45.1" lengthAdjust="spacing">Mar</text>
<text id="t65" x="714.46" y="1454.1" font-size="24" fill="#131722" textLength="40.15" lengthAdjust="spacing">Apr</text>
<text id="t66" x="915.24" y="1454.1" font-size="24" fill="#131722" textLength="47.94" lengthAdjust="spacing">May</text>
<text id="t67" x="1131.65" y="1454.1" font-size="24" fill="#131722" textLength="42.33" lengthAdjust="spacing">Jun</text>
<text id="t68" x="1340.38" y="1454.1" font-size="24" fill="#131722" textLength="34.62" lengthAdjust="spacing">Jul</text>
<text id="t69" x="1546.32" y="1454.1" font-size="24" fill="#131722" textLength="46.23" lengthAdjust="spacing">Aug</text>
<text id="t70" x="1758.3" y="1454.1" font-size="24" fill="#131722" textLength="44.74" lengthAdjust="spacing">Sep</text>
<g clip-path="url(#coct)">
<text id="t71" x="1965.7" y="1454.1" font-size="24" fill="#131722" textLength="39.6" lengthAdjust="spacing">Oct</text>
</g>
<path d="M24.08 1516.07 H48.16 V1545.63 H36.03 V1527.86 H24.08 Z" fill="#111111"/>
<circle cx="58.1" cy="1521.9" r="6.1" fill="#111111"/>
<path d="M68.6 1516.07 H83.5 L72.2 1545.63 H57.6 Z" fill="#111111"/>
<g transform="translate(90,1505) scale(0.064574)"><rect x="125" y="172" width="337" height="90" fill="#111111"/><rect x="248" y="172" width="92" height="460" fill="#111111"/><rect x="465" y="297" width="90" height="335" fill="#111111"/><path d="M510 480 C510 390 570 341 660 341" fill="none" stroke="#111111" stroke-width="88"/><clipPath id="rc1020a"><rect x="0" y="0" width="1020" height="900"/></clipPath><circle cx="851" cy="465" r="133.5" fill="none" stroke="#111111" stroke-width="83" clip-path="url(#rc1020a)"/><rect x="930" y="297" width="90" height="335" fill="#111111"/><clipPath id="rc1422a"><rect x="0" y="0" width="1422" height="900"/></clipPath><circle cx="1254" cy="465" r="133.5" fill="none" stroke="#111111" stroke-width="83" clip-path="url(#rc1422a)"/><rect x="1333" y="172" width="89" height="460" fill="#111111"/><rect x="1488" y="297" width="90" height="335" fill="#111111"/><circle cx="1535" cy="210" r="57" fill="#111111"/><rect x="1642" y="297" width="90" height="335" fill="#111111"/><path d="M1905 632 V455 C1905 380 1870 335 1812 335 C1755 335 1725 375 1700 440" fill="none" stroke="#111111" stroke-width="90"/></g>
<g transform="translate(210,1505) scale(0.064574)"><clipPath id="rc495b"><rect x="0" y="0" width="495" height="900"/></clipPath><circle cx="322" cy="463" r="134.5" fill="none" stroke="#111111" stroke-width="85" clip-path="url(#rc495b)"/><rect x="405" y="297" width="90" height="263" fill="#111111"/><path d="M450 550 V600 C450 700 400 742 325 742 C270 742 225 728 183 697" fill="none" stroke="#111111" stroke-width="88"/><polygon points="482,172 582,172 730,505 858,172 958,172 775,632 685,632" fill="#111111"/><rect x="990" y="297" width="92" height="335" fill="#111111"/><circle cx="1040" cy="210" r="57" fill="#111111"/><path d="M1421.4 541.0 A136 136 0 1 1 1444.7 481.9" fill="none" stroke="#111111" stroke-width="82"/><rect x="1225" y="437" width="259" height="55" fill="#111111"/><polygon points="1487,297 1585,297 1648,520 1712,297 1790,297 1855,520 1918,297 2013,297 1905,632 1812,632 1750,420 1690,632 1597,632" fill="#111111"/></g>
</svg>
</body></html>
